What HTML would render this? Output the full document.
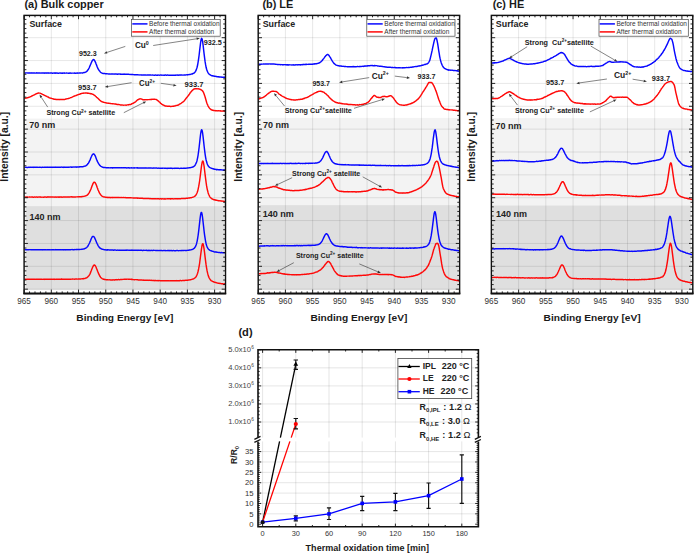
<!DOCTYPE html>
<html><head><meta charset="utf-8"><style>html,body{margin:0;padding:0;background:#fff;}svg{display:block;}</style></head>
<body>
<svg width="694" height="553" viewBox="0 0 694 553" font-family='"Liberation Sans", sans-serif'>
<rect width="694" height="553" fill="#fff"/>
<rect x="25.5" y="118.6" width="198.5" height="87.5" fill="#f3f3f3"/>
<rect x="25.5" y="206.1" width="198.5" height="83.6" fill="#dfdfdf"/>
<path d="M51.32 15.4V293.4 M78.53 15.4V293.4 M105.75 15.4V293.4 M132.96 15.4V293.4 M160.18 15.4V293.4 M187.40 15.4V293.4 M214.61 15.4V293.4 M24.1 37.70H225.50 M24.1 60.56H225.50 M24.1 83.42H225.50 M24.1 106.28H225.50 M24.1 129.14H225.50 M24.1 152.00H225.50 M24.1 174.86H225.50 M24.1 197.72H225.50 M24.1 220.58H225.50 M24.1 243.44H225.50 M24.1 266.30H225.50 M24.1 289.16H225.50" stroke="#000" stroke-opacity="0.12" stroke-width="0.8" fill="none"/>
<polyline points="24.6,72.95 25.1,73.07 25.6,72.94 26.1,72.90 26.6,72.87 27.1,72.90 27.6,72.94 28.1,72.87 28.6,73.06 29.1,72.87 29.6,73.06 30.1,72.94 30.6,72.94 31.1,72.84 31.6,73.01 32.1,73.04 32.6,72.99 33.1,72.98 33.6,72.97 34.1,72.99 34.6,72.95 35.1,73.04 35.6,73.10 36.1,73.07 36.6,72.82 37.1,72.94 37.6,72.95 38.1,73.04 38.6,72.86 39.1,72.94 39.6,73.02 40.1,72.87 40.6,73.12 41.1,73.10 41.6,72.94 42.1,72.99 42.6,72.99 43.1,72.98 43.6,72.92 44.1,73.18 44.6,73.06 45.1,72.93 45.6,72.94 46.1,73.16 46.6,72.96 47.1,72.94 47.6,72.93 48.1,73.20 48.6,72.94 49.1,73.06 49.6,73.10 50.1,72.95 50.6,73.05 51.1,72.97 51.6,72.98 52.1,73.05 52.6,73.25 53.1,73.08 53.6,73.11 54.1,73.06 54.6,73.03 55.1,73.25 55.6,73.00 56.1,73.04 56.6,73.17 57.1,73.01 57.6,73.17 58.1,73.20 58.6,73.22 59.1,73.11 59.6,73.07 60.1,73.14 60.6,73.08 61.1,73.18 61.6,73.16 62.1,73.02 62.6,73.21 63.1,73.17 63.6,73.02 64.1,72.85 64.6,73.22 65.1,73.12 65.6,73.10 66.1,73.10 66.6,72.95 67.1,73.15 67.6,73.12 68.1,73.11 68.6,73.33 69.1,73.08 69.6,73.20 70.1,72.98 70.6,73.07 71.1,73.26 71.6,73.12 72.1,73.12 72.6,73.11 73.1,73.15 73.6,73.14 74.1,73.16 74.6,73.01 75.1,73.20 75.6,73.13 76.1,73.18 76.6,73.11 77.1,72.91 77.6,73.16 78.1,73.09 78.6,73.15 79.1,73.08 79.6,72.98 80.1,73.08 80.6,72.93 81.1,72.88 81.6,72.88 82.1,73.02 82.6,72.99 83.1,72.81 83.6,72.67 84.1,72.42 84.6,72.57 85.1,72.31 85.6,72.12 86.1,71.78 86.6,71.44 87.1,71.11 87.6,70.27 88.1,69.77 88.6,68.94 89.1,68.00 89.6,66.77 90.1,65.65 90.6,64.49 91.1,63.28 91.6,62.07 92.1,61.01 92.6,60.22 93.1,59.62 93.6,59.55 94.1,59.78 94.6,60.74 95.1,61.46 95.6,62.61 96.1,64.06 96.6,65.17 97.1,66.59 97.6,67.72 98.1,68.94 98.6,69.72 99.1,70.31 99.6,71.04 100.1,71.66 100.6,72.17 101.1,72.61 101.6,72.81 102.1,73.16 102.6,73.36 103.1,73.51 103.6,73.39 104.1,73.56 104.6,73.44 105.1,73.62 105.6,73.79 106.1,73.77 106.6,73.80 107.1,73.84 107.6,73.90 108.1,73.89 108.6,74.02 109.1,73.94 109.6,73.88 110.1,74.01 110.6,74.11 111.1,73.92 111.6,74.00 112.1,74.01 112.6,74.03 113.1,73.96 113.6,74.07 114.1,74.15 114.6,74.04 115.1,74.04 115.6,74.04 116.1,73.98 116.6,74.09 117.1,74.16 117.6,74.25 118.1,74.02 118.6,74.14 119.1,74.07 119.6,74.12 120.1,74.03 120.6,74.22 121.1,74.19 121.6,74.22 122.1,74.29 122.6,74.19 123.1,74.17 123.6,74.29 124.1,74.04 124.6,74.10 125.1,74.23 125.6,74.14 126.1,74.29 126.6,74.24 127.1,74.11 127.6,74.22 128.1,74.21 128.6,74.25 129.1,74.45 129.6,74.39 130.1,74.36 130.6,74.42 131.1,74.39 131.6,74.44 132.1,74.41 132.6,74.51 133.1,74.59 133.6,74.63 134.1,74.69 134.6,74.70 135.1,74.65 135.6,74.75 136.1,74.76 136.6,74.77 137.1,74.75 137.6,74.71 138.1,74.84 138.6,74.88 139.1,74.93 139.6,74.87 140.1,74.86 140.6,74.87 141.1,75.07 141.6,74.94 142.1,75.02 142.6,75.10 143.1,74.95 143.6,74.96 144.1,74.96 144.6,74.98 145.1,74.98 145.6,74.98 146.1,75.11 146.6,75.08 147.1,75.02 147.6,74.98 148.1,75.03 148.6,74.99 149.1,74.97 149.6,75.14 150.1,74.89 150.6,74.92 151.1,75.06 151.6,75.12 152.1,75.12 152.6,74.98 153.1,75.11 153.6,75.15 154.1,75.15 154.6,75.15 155.1,75.15 155.6,74.98 156.1,75.10 156.6,75.20 157.1,75.21 157.6,75.21 158.1,75.03 158.6,75.13 159.1,75.13 159.6,75.18 160.1,75.11 160.6,75.05 161.1,75.03 161.6,75.17 162.1,75.17 162.6,75.11 163.1,75.11 163.6,75.17 164.1,75.27 164.6,75.18 165.1,75.05 165.6,75.01 166.1,75.17 166.6,75.18 167.1,75.17 167.6,74.98 168.1,75.12 168.6,75.19 169.1,75.19 169.6,75.19 170.1,75.12 170.6,75.19 171.1,75.19 171.6,75.13 172.1,75.17 172.6,75.13 173.1,75.19 173.6,75.25 174.1,75.25 174.6,75.16 175.1,75.13 175.6,75.21 176.1,75.07 176.6,75.15 177.1,75.17 177.6,75.09 178.1,75.08 178.6,75.17 179.1,75.16 179.6,75.00 180.1,75.17 180.6,75.03 181.1,74.95 181.6,74.92 182.1,75.08 182.6,75.11 183.1,75.13 183.6,75.11 184.1,74.88 184.6,74.98 185.1,74.96 185.6,74.92 186.1,74.87 186.6,74.81 187.1,74.67 187.6,75.00 188.1,74.68 188.6,74.63 189.1,74.52 189.6,74.53 190.1,74.41 190.6,74.37 191.1,74.13 191.6,74.03 192.1,74.03 192.6,73.75 193.1,73.43 193.6,73.31 194.1,73.02 194.6,72.45 195.1,72.04 195.6,71.28 196.1,70.17 196.6,68.81 197.1,67.26 197.6,65.01 198.1,62.23 198.6,58.98 199.1,55.27 199.6,50.90 200.1,46.59 200.6,42.62 201.1,39.57 201.6,38.35 202.1,38.94 202.6,41.42 203.1,45.21 203.6,49.58 204.1,53.88 204.6,57.95 205.1,61.63 205.6,64.71 206.1,67.29 206.6,69.30 207.1,70.63 207.6,71.83 208.1,72.79 208.6,73.51 209.1,74.19 209.6,74.51 210.1,74.83 210.6,75.02 211.1,75.42 211.6,75.67 212.1,75.62 212.6,75.76 213.1,75.96 213.6,75.91 214.1,76.21 214.6,76.26 215.1,76.24 215.6,76.43 216.1,76.62 216.6,76.54 217.1,76.73 217.6,76.71 218.1,76.78 218.6,76.75 219.1,77.03 219.6,76.83 220.1,76.96 220.6,77.08 221.1,76.93 221.6,77.16 222.1,77.18 222.6,77.16 223.1,77.30 223.6,77.19 224.1,77.14 224.6,77.31 225.1,77.28" fill="none" stroke="#0808ff" stroke-width="1.45" stroke-linejoin="round"/>
<polyline points="24.6,98.39 25.1,98.32 25.6,98.13 26.1,98.08 26.6,97.96 27.1,97.84 27.6,97.87 28.1,97.53 28.6,97.37 29.1,97.20 29.6,97.15 30.1,96.86 30.6,96.67 31.1,96.49 31.6,96.21 32.1,95.78 32.6,95.72 33.1,95.31 33.6,95.11 34.1,94.83 34.6,94.71 35.1,94.31 35.6,94.05 36.1,93.89 36.6,93.75 37.1,93.43 37.6,93.33 38.1,93.25 38.6,92.92 39.1,93.11 39.6,93.14 40.1,93.14 40.6,93.36 41.1,93.56 41.6,93.92 42.1,94.07 42.6,94.41 43.1,94.69 43.6,94.68 44.1,95.11 44.6,95.33 45.1,95.56 45.6,95.89 46.1,96.11 46.6,96.24 47.1,96.55 47.6,96.83 48.1,97.01 48.6,97.20 49.1,97.73 49.6,97.87 50.1,98.07 50.6,98.16 51.1,98.15 51.6,98.43 52.1,98.63 52.6,98.69 53.1,98.81 53.6,99.02 54.1,99.28 54.6,99.24 55.1,99.32 55.6,99.33 56.1,99.58 56.6,99.52 57.1,99.50 57.6,99.48 58.1,99.46 58.6,99.53 59.1,99.68 59.6,99.52 60.1,99.56 60.6,99.45 61.1,99.54 61.6,99.40 62.1,99.63 62.6,99.47 63.1,99.55 63.6,99.50 64.1,99.56 64.6,99.43 65.1,99.35 65.6,99.07 66.1,99.00 66.6,98.87 67.1,98.75 67.6,98.63 68.1,98.64 68.6,98.43 69.1,98.29 69.6,98.06 70.1,97.87 70.6,97.64 71.1,97.62 71.6,97.33 72.1,97.15 72.6,96.89 73.1,96.57 73.6,96.42 74.1,96.05 74.6,96.08 75.1,95.83 75.6,95.65 76.1,95.45 76.6,95.29 77.1,95.03 77.6,94.87 78.1,94.63 78.6,94.48 79.1,94.36 79.6,94.25 80.1,94.00 80.6,93.77 81.1,93.58 81.6,93.55 82.1,93.36 82.6,93.33 83.1,93.29 83.6,93.01 84.1,93.12 84.6,93.10 85.1,92.93 85.6,92.99 86.1,93.11 86.6,93.02 87.1,93.05 87.6,93.24 88.1,93.18 88.6,93.23 89.1,93.39 89.6,93.42 90.1,93.52 90.6,93.72 91.1,93.83 91.6,93.73 92.1,94.09 92.6,94.19 93.1,94.40 93.6,94.66 94.1,95.06 94.6,95.36 95.1,95.72 95.6,96.24 96.1,96.58 96.6,97.23 97.1,97.68 97.6,98.00 98.1,98.43 98.6,98.91 99.1,99.44 99.6,100.04 100.1,100.44 100.6,100.81 101.1,101.21 101.6,101.62 102.1,101.70 102.6,101.84 103.1,102.25 103.6,102.16 104.1,102.41 104.6,102.57 105.1,102.63 105.6,102.71 106.1,102.93 106.6,102.93 107.1,103.07 107.6,103.10 108.1,103.32 108.6,103.20 109.1,103.25 109.6,103.35 110.1,103.47 110.6,103.53 111.1,103.62 111.6,103.62 112.1,103.77 112.6,103.67 113.1,103.74 113.6,103.88 114.1,103.90 114.6,103.95 115.1,104.02 115.6,104.07 116.1,104.21 116.6,104.31 117.1,104.43 117.6,104.42 118.1,104.44 118.6,104.49 119.1,104.58 119.6,104.62 120.1,104.87 120.6,105.04 121.1,104.97 121.6,105.06 122.1,104.92 122.6,105.14 123.1,105.13 123.6,105.20 124.1,105.14 124.6,105.13 125.1,105.10 125.6,105.09 126.1,105.25 126.6,105.09 127.1,104.86 127.6,104.88 128.1,104.79 128.6,104.90 129.1,104.51 129.6,104.61 130.1,104.53 130.6,104.51 131.1,104.31 131.6,103.98 132.1,103.66 132.6,103.47 133.1,103.25 133.6,103.03 134.1,102.72 134.6,102.38 135.1,102.16 135.6,101.69 136.1,101.18 136.6,100.70 137.1,100.24 137.6,99.82 138.1,99.80 138.6,99.33 139.1,99.06 139.6,99.04 140.1,98.78 140.6,98.85 141.1,98.88 141.6,99.13 142.1,99.24 142.6,99.62 143.1,99.86 143.6,99.72 144.1,99.73 144.6,99.80 145.1,99.80 145.6,99.63 146.1,99.64 146.6,99.68 147.1,99.81 147.6,99.61 148.1,99.65 148.6,99.64 149.1,99.61 149.6,99.57 150.1,99.45 150.6,99.52 151.1,99.30 151.6,99.49 152.1,99.32 152.6,99.36 153.1,99.20 153.6,99.33 154.1,99.20 154.6,99.19 155.1,99.37 155.6,99.35 156.1,99.42 156.6,99.62 157.1,100.16 157.6,100.45 158.1,100.86 158.6,101.28 159.1,101.79 159.6,102.07 160.1,102.54 160.6,103.35 161.1,103.55 161.6,104.13 162.1,104.41 162.6,104.71 163.1,105.01 163.6,105.17 164.1,105.54 164.6,105.74 165.1,105.93 165.6,106.16 166.1,106.01 166.6,106.17 167.1,106.31 167.6,106.15 168.1,106.19 168.6,106.23 169.1,106.23 169.6,106.22 170.1,106.42 170.6,106.51 171.1,106.44 171.6,106.35 172.1,106.33 172.6,106.36 173.1,106.22 173.6,106.18 174.1,106.06 174.6,106.06 175.1,105.92 175.6,105.74 176.1,105.50 176.6,105.40 177.1,105.35 177.6,105.28 178.1,104.91 178.6,104.95 179.1,104.46 179.6,104.19 180.1,103.96 180.6,103.56 181.1,103.27 181.6,102.92 182.1,102.50 182.6,102.13 183.1,101.79 183.6,101.43 184.1,101.04 184.6,100.34 185.1,99.63 185.6,99.10 186.1,98.36 186.6,97.85 187.1,97.14 187.6,96.58 188.1,95.90 188.6,95.23 189.1,94.48 189.6,93.90 190.1,92.89 190.6,92.42 191.1,91.77 191.6,91.13 192.1,90.60 192.6,90.18 193.1,89.69 193.6,89.23 194.1,89.03 194.6,88.78 195.1,88.68 195.6,88.60 196.1,88.72 196.6,88.72 197.1,88.88 197.6,88.80 198.1,88.70 198.6,88.88 199.1,89.10 199.6,89.07 200.1,89.37 200.6,89.46 201.1,89.80 201.6,90.15 202.1,90.46 202.6,91.03 203.1,91.76 203.6,92.67 204.1,94.00 204.6,95.40 205.1,96.94 205.6,98.70 206.1,100.44 206.6,102.24 207.1,103.76 207.6,104.84 208.1,106.04 208.6,106.87 209.1,107.66 209.6,108.30 210.1,108.84 210.6,109.13 211.1,109.64 211.6,110.05 212.1,110.02 212.6,110.20 213.1,110.31 213.6,110.45 214.1,110.44 214.6,110.63 215.1,110.69 215.6,110.59 216.1,110.66 216.6,110.64 217.1,110.78 217.6,110.90 218.1,110.69 218.6,110.76 219.1,110.73 219.6,110.88 220.1,110.91 220.6,110.84 221.1,110.92 221.6,111.15 222.1,111.17 222.6,110.96 223.1,111.06 223.6,111.06 224.1,111.16 224.6,111.06 225.1,111.22" fill="none" stroke="#ff0808" stroke-width="1.45" stroke-linejoin="round"/>
<polyline points="24.6,167.35 25.1,167.30 25.6,167.38 26.1,167.31 26.6,167.37 27.1,167.55 27.6,167.39 28.1,167.41 28.6,167.29 29.1,167.28 29.6,167.41 30.1,167.27 30.6,167.27 31.1,167.37 31.6,167.30 32.1,167.38 32.6,167.26 33.1,167.40 33.6,167.15 34.1,167.25 34.6,167.21 35.1,167.33 35.6,167.20 36.1,167.39 36.6,167.23 37.1,167.39 37.6,167.30 38.1,167.39 38.6,167.40 39.1,167.25 39.6,167.31 40.1,167.36 40.6,167.31 41.1,167.40 41.6,167.40 42.1,167.27 42.6,167.14 43.1,167.28 43.6,167.39 44.1,167.26 44.6,167.25 45.1,167.25 45.6,167.32 46.1,167.39 46.6,167.12 47.1,167.33 47.6,167.23 48.1,167.15 48.6,167.34 49.1,167.24 49.6,167.22 50.1,167.25 50.6,167.18 51.1,167.31 51.6,167.20 52.1,167.41 52.6,167.30 53.1,167.22 53.6,167.23 54.1,167.16 54.6,167.29 55.1,167.29 55.6,167.09 56.1,167.25 56.6,167.29 57.1,167.31 57.6,167.20 58.1,167.18 58.6,167.23 59.1,167.28 59.6,167.26 60.1,167.24 60.6,167.20 61.1,167.15 61.6,167.09 62.1,167.24 62.6,167.17 63.1,167.22 63.6,167.40 64.1,167.08 64.6,167.29 65.1,167.11 65.6,167.16 66.1,167.13 66.6,167.18 67.1,167.21 67.6,167.19 68.1,167.31 68.6,167.12 69.1,167.24 69.6,167.12 70.1,167.08 70.6,167.14 71.1,167.01 71.6,167.22 72.1,167.23 72.6,167.08 73.1,166.99 73.6,167.13 74.1,167.09 74.6,167.12 75.1,166.99 75.6,167.06 76.1,167.08 76.6,167.18 77.1,166.93 77.6,167.04 78.1,166.91 78.6,166.94 79.1,167.04 79.6,166.76 80.1,166.73 80.6,166.80 81.1,166.75 81.6,166.89 82.1,166.62 82.6,166.80 83.1,166.57 83.6,166.57 84.1,166.35 84.6,166.15 85.1,166.09 85.6,165.97 86.1,165.58 86.6,165.20 87.1,164.91 87.6,164.06 88.1,163.62 88.6,162.88 89.1,161.86 89.6,160.88 90.1,159.86 90.6,158.60 91.1,157.28 91.6,156.23 92.1,155.08 92.6,154.45 93.1,153.98 93.6,153.85 94.1,154.19 94.6,154.80 95.1,155.63 95.6,156.85 96.1,158.16 96.6,159.50 97.1,160.63 97.6,161.88 98.1,162.71 98.6,163.77 99.1,164.26 99.6,165.16 100.1,165.58 100.6,166.14 101.1,166.42 101.6,166.67 102.1,166.97 102.6,167.20 103.1,167.30 103.6,167.53 104.1,167.42 104.6,167.53 105.1,167.52 105.6,167.64 106.1,167.74 106.6,167.82 107.1,167.72 107.6,167.62 108.1,167.72 108.6,167.78 109.1,167.80 109.6,167.87 110.1,167.90 110.6,167.75 111.1,167.71 111.6,167.66 112.1,167.80 112.6,167.93 113.1,167.79 113.6,167.89 114.1,167.69 114.6,167.73 115.1,167.75 115.6,167.69 116.1,167.72 116.6,167.78 117.1,167.75 117.6,167.80 118.1,167.77 118.6,167.78 119.1,167.66 119.6,167.71 120.1,167.73 120.6,167.85 121.1,167.74 121.6,167.73 122.1,167.71 122.6,167.85 123.1,167.75 123.6,167.70 124.1,167.69 124.6,167.70 125.1,167.87 125.6,167.70 126.1,167.87 126.6,167.94 127.1,167.79 127.6,167.88 128.1,167.96 128.6,167.72 129.1,167.81 129.6,168.05 130.1,167.85 130.6,167.88 131.1,167.94 131.6,167.80 132.1,167.85 132.6,167.85 133.1,168.07 133.6,167.91 134.1,167.76 134.6,167.96 135.1,167.87 135.6,167.89 136.1,167.89 136.6,167.84 137.1,167.97 137.6,167.79 138.1,167.94 138.6,167.96 139.1,167.97 139.6,167.93 140.1,168.01 140.6,168.01 141.1,167.96 141.6,168.03 142.1,167.89 142.6,168.04 143.1,168.04 143.6,167.87 144.1,167.96 144.6,168.03 145.1,167.84 145.6,167.94 146.1,168.01 146.6,168.06 147.1,168.14 147.6,168.08 148.1,167.90 148.6,167.90 149.1,167.92 149.6,168.02 150.1,168.04 150.6,167.99 151.1,168.00 151.6,168.09 152.1,168.14 152.6,168.18 153.1,168.03 153.6,168.15 154.1,167.96 154.6,168.06 155.1,168.13 155.6,168.09 156.1,168.06 156.6,168.09 157.1,168.12 157.6,168.17 158.1,168.22 158.6,168.09 159.1,168.12 159.6,168.21 160.1,168.16 160.6,168.14 161.1,168.18 161.6,168.22 162.1,168.09 162.6,168.24 163.1,168.10 163.6,168.11 164.1,168.21 164.6,168.26 165.1,168.21 165.6,168.26 166.1,168.28 166.6,168.34 167.1,168.46 167.6,168.27 168.1,168.26 168.6,168.24 169.1,168.38 169.6,168.23 170.1,168.26 170.6,168.10 171.1,168.32 171.6,168.26 172.1,168.30 172.6,168.45 173.1,168.36 173.6,168.32 174.1,168.24 174.6,168.42 175.1,168.27 175.6,168.28 176.1,168.29 176.6,168.25 177.1,168.19 177.6,168.32 178.1,168.33 178.6,168.34 179.1,168.36 179.6,168.41 180.1,168.35 180.6,168.30 181.1,168.30 181.6,168.28 182.1,168.35 182.6,168.34 183.1,168.30 183.6,168.15 184.1,168.32 184.6,168.21 185.1,168.14 185.6,168.22 186.1,168.21 186.6,168.13 187.1,168.02 187.6,167.97 188.1,168.00 188.6,167.89 189.1,167.79 189.6,167.79 190.1,167.74 190.6,167.63 191.1,167.46 191.6,167.39 192.1,167.20 192.6,167.05 193.1,166.95 193.6,166.54 194.1,166.20 194.6,165.83 195.1,165.23 195.6,164.23 196.1,163.17 196.6,161.94 197.1,160.20 197.6,157.79 198.1,155.02 198.6,151.42 199.1,147.47 199.6,142.96 200.1,138.39 200.6,134.01 201.1,131.03 201.6,129.65 202.1,130.40 202.6,133.00 203.1,136.83 203.6,141.45 204.1,146.03 204.6,150.10 205.1,154.04 205.6,157.32 206.1,159.96 206.6,161.83 207.1,163.45 207.6,164.75 208.1,165.71 208.6,166.39 209.1,166.95 209.6,167.33 210.1,167.60 210.6,167.84 211.1,168.08 211.6,168.38 212.1,168.48 212.6,168.67 213.1,168.76 213.6,168.97 214.1,169.04 214.6,169.29 215.1,169.19 215.6,169.34 216.1,169.49 216.6,169.73 217.1,169.53 217.6,169.57 218.1,169.72 218.6,169.75 219.1,169.78 219.6,169.82 220.1,169.93 220.6,169.77 221.1,169.82 221.6,169.90 222.1,170.01 222.6,170.14 223.1,170.04 223.6,170.04 224.1,170.23 224.6,170.01 225.1,170.08" fill="none" stroke="#0808ff" stroke-width="1.45" stroke-linejoin="round"/>
<polyline points="24.6,197.03 25.1,197.11 25.6,197.08 26.1,196.91 26.6,197.10 27.1,197.05 27.6,197.03 28.1,197.10 28.6,197.14 29.1,197.07 29.6,196.96 30.1,197.03 30.6,197.10 31.1,197.12 31.6,196.99 32.1,196.97 32.6,197.06 33.1,197.18 33.6,197.20 34.1,197.10 34.6,196.93 35.1,197.18 35.6,197.15 36.1,197.07 36.6,196.99 37.1,197.08 37.6,197.16 38.1,197.14 38.6,197.08 39.1,197.07 39.6,196.97 40.1,196.98 40.6,197.05 41.1,197.22 41.6,197.13 42.1,197.12 42.6,197.13 43.1,197.21 43.6,197.09 44.1,197.18 44.6,196.96 45.1,197.12 45.6,197.05 46.1,197.16 46.6,197.28 47.1,197.04 47.6,197.08 48.1,196.79 48.6,197.12 49.1,197.09 49.6,197.07 50.1,196.96 50.6,196.86 51.1,197.01 51.6,197.07 52.1,197.09 52.6,197.07 53.1,197.12 53.6,197.09 54.1,196.88 54.6,197.09 55.1,197.20 55.6,197.00 56.1,196.95 56.6,197.16 57.1,197.14 57.6,197.06 58.1,197.06 58.6,197.17 59.1,196.95 59.6,197.21 60.1,197.06 60.6,197.06 61.1,197.07 61.6,197.01 62.1,197.20 62.6,197.08 63.1,196.91 63.6,197.00 64.1,196.99 64.6,197.11 65.1,196.88 65.6,196.97 66.1,197.09 66.6,197.09 67.1,196.98 67.6,197.02 68.1,196.89 68.6,197.14 69.1,196.95 69.6,196.87 70.1,196.91 70.6,196.89 71.1,196.78 71.6,196.92 72.1,196.81 72.6,197.07 73.1,197.09 73.6,197.02 74.1,196.90 74.6,197.07 75.1,197.06 75.6,196.92 76.1,196.87 76.6,196.88 77.1,196.85 77.6,196.83 78.1,196.79 78.6,196.90 79.1,196.77 79.6,196.80 80.1,196.82 80.6,196.63 81.1,196.79 81.6,196.70 82.1,196.52 82.6,196.60 83.1,196.42 83.6,196.40 84.1,196.30 84.6,196.14 85.1,196.13 85.6,195.91 86.1,195.74 86.6,195.38 87.1,195.32 87.6,194.87 88.1,194.25 88.6,193.46 89.1,192.84 89.6,191.96 90.1,190.82 90.6,189.80 91.1,188.60 91.6,187.18 92.1,185.72 92.6,184.63 93.1,183.34 93.6,182.56 94.1,182.22 94.6,182.22 95.1,182.63 95.6,183.54 96.1,184.45 96.6,185.66 97.1,187.19 97.6,188.53 98.1,189.99 98.6,191.02 99.1,192.08 99.6,193.09 100.1,194.00 100.6,194.64 101.1,195.28 101.6,195.86 102.1,196.14 102.6,196.40 103.1,196.71 103.6,196.91 104.1,197.04 104.6,196.98 105.1,197.16 105.6,197.30 106.1,197.33 106.6,197.34 107.1,197.50 107.6,197.32 108.1,197.38 108.6,197.60 109.1,197.33 109.6,197.51 110.1,197.68 110.6,197.55 111.1,197.63 111.6,197.41 112.1,197.48 112.6,197.72 113.1,197.45 113.6,197.54 114.1,197.41 114.6,197.55 115.1,197.47 115.6,197.47 116.1,197.38 116.6,197.49 117.1,197.54 117.6,197.52 118.1,197.58 118.6,197.40 119.1,197.42 119.6,197.55 120.1,197.60 120.6,197.55 121.1,197.62 121.6,197.51 122.1,197.59 122.6,197.62 123.1,197.55 123.6,197.59 124.1,197.62 124.6,197.65 125.1,197.50 125.6,197.69 126.1,197.72 126.6,197.72 127.1,197.85 127.6,197.65 128.1,197.86 128.6,197.64 129.1,197.77 129.6,197.82 130.1,197.62 130.6,197.80 131.1,197.84 131.6,197.88 132.1,197.85 132.6,197.85 133.1,197.95 133.6,198.00 134.1,197.94 134.6,198.00 135.1,198.09 135.6,197.93 136.1,197.89 136.6,198.01 137.1,198.06 137.6,198.20 138.1,198.07 138.6,198.13 139.1,198.32 139.6,198.11 140.1,198.21 140.6,198.13 141.1,198.23 141.6,198.31 142.1,198.21 142.6,198.32 143.1,198.42 143.6,198.42 144.1,198.38 144.6,198.42 145.1,198.37 145.6,198.46 146.1,198.41 146.6,198.46 147.1,198.47 147.6,198.55 148.1,198.55 148.6,198.46 149.1,198.51 149.6,198.69 150.1,198.74 150.6,198.57 151.1,198.62 151.6,198.73 152.1,198.77 152.6,198.62 153.1,198.72 153.6,198.70 154.1,198.76 154.6,198.76 155.1,198.78 155.6,198.75 156.1,198.76 156.6,198.85 157.1,198.78 157.6,198.73 158.1,198.74 158.6,198.75 159.1,198.95 159.6,198.91 160.1,198.77 160.6,198.81 161.1,198.84 161.6,198.96 162.1,198.75 162.6,198.84 163.1,198.90 163.6,198.90 164.1,198.79 164.6,199.00 165.1,198.84 165.6,198.91 166.1,198.89 166.6,198.89 167.1,198.80 167.6,198.73 168.1,198.88 168.6,198.74 169.1,198.88 169.6,198.77 170.1,198.77 170.6,198.94 171.1,198.83 171.6,198.83 172.1,198.80 172.6,198.77 173.1,198.93 173.6,198.86 174.1,198.75 174.6,198.85 175.1,198.74 175.6,198.74 176.1,198.81 176.6,198.74 177.1,198.91 177.6,198.76 178.1,198.77 178.6,198.76 179.1,198.71 179.6,198.70 180.1,198.67 180.6,198.80 181.1,198.65 181.6,198.53 182.1,198.59 182.6,198.59 183.1,198.47 183.6,198.51 184.1,198.55 184.6,198.46 185.1,198.51 185.6,198.41 186.1,198.34 186.6,198.16 187.1,198.33 187.6,198.20 188.1,198.14 188.6,198.03 189.1,198.14 189.6,197.98 190.1,197.69 190.6,197.80 191.1,197.75 191.6,197.55 192.1,197.36 192.6,197.31 193.1,197.08 193.6,196.89 194.1,196.62 194.6,196.26 195.1,196.04 195.6,195.52 196.1,194.72 196.6,193.82 197.1,192.73 197.6,191.33 198.1,189.31 198.6,186.96 199.1,184.17 199.6,181.01 200.1,177.26 200.6,173.14 201.1,169.13 201.6,165.47 202.1,162.56 202.6,161.10 203.1,161.24 203.6,163.24 204.1,166.44 204.6,170.49 205.1,174.65 205.6,178.62 206.1,182.52 206.6,185.90 207.1,188.56 207.6,190.81 208.1,192.67 208.6,194.27 209.1,195.30 209.6,196.35 210.1,197.12 210.6,197.75 211.1,198.07 211.6,198.55 212.1,199.03 212.6,199.06 213.1,199.37 213.6,199.52 214.1,199.84 214.6,199.84 215.1,200.08 215.6,200.00 216.1,200.25 216.6,200.23 217.1,200.36 217.6,200.50 218.1,200.58 218.6,200.79 219.1,200.75 219.6,200.87 220.1,200.80 220.6,200.90 221.1,201.17 221.6,201.02 222.1,201.11 222.6,201.08 223.1,201.21 223.6,201.27 224.1,201.40 224.6,201.39 225.1,201.38" fill="none" stroke="#ff0808" stroke-width="1.45" stroke-linejoin="round"/>
<polyline points="24.6,249.57 25.1,249.56 25.6,249.76 26.1,249.74 26.6,249.71 27.1,249.73 27.6,249.73 28.1,249.66 28.6,249.69 29.1,249.69 29.6,249.61 30.1,249.65 30.6,249.67 31.1,249.80 31.6,249.75 32.1,249.81 32.6,249.76 33.1,249.77 33.6,249.80 34.1,249.76 34.6,249.77 35.1,249.88 35.6,249.74 36.1,249.67 36.6,249.83 37.1,249.73 37.6,249.80 38.1,249.62 38.6,249.67 39.1,249.84 39.6,249.76 40.1,249.67 40.6,249.80 41.1,249.76 41.6,249.75 42.1,249.91 42.6,249.65 43.1,249.78 43.6,249.84 44.1,249.81 44.6,249.70 45.1,249.82 45.6,249.63 46.1,249.75 46.6,249.84 47.1,249.81 47.6,249.81 48.1,249.72 48.6,249.65 49.1,249.89 49.6,249.75 50.1,249.73 50.6,249.89 51.1,249.87 51.6,249.81 52.1,249.76 52.6,249.75 53.1,249.83 53.6,249.77 54.1,249.74 54.6,249.88 55.1,249.74 55.6,249.58 56.1,249.81 56.6,249.66 57.1,249.78 57.6,249.62 58.1,249.71 58.6,249.74 59.1,249.70 59.6,249.73 60.1,249.69 60.6,249.72 61.1,249.85 61.6,249.77 62.1,249.84 62.6,249.68 63.1,249.73 63.6,249.92 64.1,249.72 64.6,249.75 65.1,249.90 65.6,249.71 66.1,249.69 66.6,249.78 67.1,249.75 67.6,249.68 68.1,249.73 68.6,249.68 69.1,249.69 69.6,249.65 70.1,249.68 70.6,249.68 71.1,249.60 71.6,249.64 72.1,249.55 72.6,249.67 73.1,249.63 73.6,249.79 74.1,249.56 74.6,249.66 75.1,249.62 75.6,249.60 76.1,249.42 76.6,249.66 77.1,249.55 77.6,249.46 78.1,249.46 78.6,249.42 79.1,249.42 79.6,249.48 80.1,249.37 80.6,249.36 81.1,249.41 81.6,249.32 82.1,249.23 82.6,249.16 83.1,249.07 83.6,249.01 84.1,248.93 84.6,248.78 85.1,248.39 85.6,248.21 86.1,247.89 86.6,247.56 87.1,247.03 87.6,246.47 88.1,245.76 88.6,244.72 89.1,243.78 89.6,242.78 90.1,241.65 90.6,240.46 91.1,239.03 91.6,237.98 92.1,237.07 92.6,236.44 93.1,236.42 93.6,236.42 94.1,236.91 94.6,237.67 95.1,238.92 95.6,239.95 96.1,241.16 96.6,242.40 97.1,243.58 97.6,244.52 98.1,245.58 98.6,246.36 99.1,246.99 99.6,247.73 100.1,247.88 100.6,248.40 101.1,248.75 101.6,248.98 102.1,249.17 102.6,249.18 103.1,249.35 103.6,249.55 104.1,249.60 104.6,249.73 105.1,249.80 105.6,249.83 106.1,249.95 106.6,249.97 107.1,249.81 107.6,249.95 108.1,249.80 108.6,249.88 109.1,249.97 109.6,249.95 110.1,249.90 110.6,250.00 111.1,250.04 111.6,249.99 112.1,250.01 112.6,250.06 113.1,250.09 113.6,250.23 114.1,250.06 114.6,250.07 115.1,250.03 115.6,250.09 116.1,250.11 116.6,250.37 117.1,250.24 117.6,250.08 118.1,250.12 118.6,250.23 119.1,250.07 119.6,250.22 120.1,250.23 120.6,250.25 121.1,250.22 121.6,250.12 122.1,250.19 122.6,250.16 123.1,250.11 123.6,250.27 124.1,250.21 124.6,250.20 125.1,250.09 125.6,250.25 126.1,250.16 126.6,250.09 127.1,250.25 127.6,250.08 128.1,250.13 128.6,250.21 129.1,250.26 129.6,250.11 130.1,250.25 130.6,250.30 131.1,250.31 131.6,250.20 132.1,250.03 132.6,250.27 133.1,250.27 133.6,250.23 134.1,250.28 134.6,250.30 135.1,250.19 135.6,250.13 136.1,250.23 136.6,250.25 137.1,250.40 137.6,250.25 138.1,250.30 138.6,250.26 139.1,250.30 139.6,250.38 140.1,250.26 140.6,250.15 141.1,250.16 141.6,250.26 142.1,250.42 142.6,250.44 143.1,250.41 143.6,250.22 144.1,250.40 144.6,250.39 145.1,250.32 145.6,250.35 146.1,250.33 146.6,250.26 147.1,250.45 147.6,250.39 148.1,250.51 148.6,250.34 149.1,250.32 149.6,250.56 150.1,250.50 150.6,250.53 151.1,250.33 151.6,250.39 152.1,250.55 152.6,250.49 153.1,250.41 153.6,250.26 154.1,250.39 154.6,250.40 155.1,250.38 155.6,250.46 156.1,250.56 156.6,250.48 157.1,250.41 157.6,250.53 158.1,250.47 158.6,250.57 159.1,250.63 159.6,250.48 160.1,250.39 160.6,250.51 161.1,250.48 161.6,250.42 162.1,250.67 162.6,250.62 163.1,250.64 163.6,250.51 164.1,250.64 164.6,250.53 165.1,250.66 165.6,250.58 166.1,250.63 166.6,250.63 167.1,250.66 167.6,250.52 168.1,250.49 168.6,250.56 169.1,250.70 169.6,250.56 170.1,250.63 170.6,250.58 171.1,250.67 171.6,250.57 172.1,250.59 172.6,250.72 173.1,250.59 173.6,250.58 174.1,250.60 174.6,250.76 175.1,250.77 175.6,250.76 176.1,250.62 176.6,250.53 177.1,250.56 177.6,250.55 178.1,250.61 178.6,250.71 179.1,250.64 179.6,250.65 180.1,250.56 180.6,250.62 181.1,250.66 181.6,250.42 182.1,250.61 182.6,250.47 183.1,250.48 183.6,250.48 184.1,250.39 184.6,250.37 185.1,250.55 185.6,250.47 186.1,250.37 186.6,250.47 187.1,250.37 187.6,250.37 188.1,250.13 188.6,250.16 189.1,250.24 189.6,249.93 190.1,249.98 190.6,249.87 191.1,249.77 191.6,249.60 192.1,249.47 192.6,249.33 193.1,249.03 193.6,248.74 194.1,248.42 194.6,247.80 195.1,247.02 195.6,246.26 196.1,244.98 196.6,243.42 197.1,241.31 197.6,238.61 198.1,235.50 198.6,231.59 199.1,227.36 199.6,222.81 200.1,218.40 200.6,214.77 201.1,212.54 201.6,212.48 202.1,214.42 202.6,217.90 203.1,222.29 203.6,226.64 204.1,231.23 204.6,235.06 205.1,238.37 205.6,241.27 206.1,243.72 206.6,245.49 207.1,246.85 207.6,247.88 208.1,248.71 208.6,249.23 209.1,249.67 209.6,250.06 210.1,250.40 210.6,250.63 211.1,250.76 211.6,251.01 212.1,251.19 212.6,251.39 213.1,251.34 213.6,251.59 214.1,251.84 214.6,251.97 215.1,251.83 215.6,252.03 216.1,251.90 216.6,252.20 217.1,252.16 217.6,252.38 218.1,252.37 218.6,252.42 219.1,252.35 219.6,252.48 220.1,252.59 220.6,252.66 221.1,252.70 221.6,252.55 222.1,252.65 222.6,252.74 223.1,252.85 223.6,252.74 224.1,252.80 224.6,252.89 225.1,252.80" fill="none" stroke="#0808ff" stroke-width="1.45" stroke-linejoin="round"/>
<polyline points="24.6,279.30 25.1,279.29 25.6,279.14 26.1,279.26 26.6,279.36 27.1,279.17 27.6,279.32 28.1,279.19 28.6,279.18 29.1,279.33 29.6,279.12 30.1,279.21 30.6,279.37 31.1,279.23 31.6,279.11 32.1,279.17 32.6,279.26 33.1,279.36 33.6,279.14 34.1,279.27 34.6,279.28 35.1,279.37 35.6,279.31 36.1,279.25 36.6,279.23 37.1,279.33 37.6,279.27 38.1,279.24 38.6,279.21 39.1,279.31 39.6,279.23 40.1,279.20 40.6,279.32 41.1,279.29 41.6,279.19 42.1,279.31 42.6,279.35 43.1,279.28 43.6,279.36 44.1,279.14 44.6,279.42 45.1,279.26 45.6,279.33 46.1,279.20 46.6,279.15 47.1,279.31 47.6,279.27 48.1,279.30 48.6,279.15 49.1,279.32 49.6,279.30 50.1,279.22 50.6,279.25 51.1,279.33 51.6,279.26 52.1,279.21 52.6,279.33 53.1,279.20 53.6,279.13 54.1,279.43 54.6,279.19 55.1,279.35 55.6,279.32 56.1,279.18 56.6,279.33 57.1,279.26 57.6,279.26 58.1,279.18 58.6,279.31 59.1,279.34 59.6,279.16 60.1,279.37 60.6,279.30 61.1,279.05 61.6,279.03 62.1,279.22 62.6,279.20 63.1,279.24 63.6,279.19 64.1,279.31 64.6,279.16 65.1,279.19 65.6,279.29 66.1,279.19 66.6,279.16 67.1,279.19 67.6,279.20 68.1,279.19 68.6,279.13 69.1,279.19 69.6,279.20 70.1,279.15 70.6,279.24 71.1,279.12 71.6,279.10 72.1,279.18 72.6,279.02 73.1,279.13 73.6,279.11 74.1,279.08 74.6,279.24 75.1,279.14 75.6,279.07 76.1,279.07 76.6,279.07 77.1,279.15 77.6,279.12 78.1,279.02 78.6,278.97 79.1,279.04 79.6,278.86 80.1,279.04 80.6,278.93 81.1,278.85 81.6,278.89 82.1,278.83 82.6,278.66 83.1,278.90 83.6,278.56 84.1,278.51 84.6,278.62 85.1,278.45 85.6,278.21 86.1,277.99 86.6,277.80 87.1,277.58 87.6,277.01 88.1,276.68 88.6,275.91 89.1,275.40 89.6,274.54 90.1,273.61 90.6,272.37 91.1,271.10 91.6,269.72 92.1,268.51 92.6,267.32 93.1,266.24 93.6,265.54 94.1,264.98 94.6,264.95 95.1,265.41 95.6,266.25 96.1,267.29 96.6,268.62 97.1,269.85 97.6,271.24 98.1,272.33 98.6,273.67 99.1,274.70 99.6,275.64 100.1,276.57 100.6,277.17 101.1,277.72 101.6,278.15 102.1,278.51 102.6,278.82 103.1,279.00 103.6,279.35 104.1,279.22 104.6,279.56 105.1,279.57 105.6,279.59 106.1,279.68 106.6,279.70 107.1,279.81 107.6,279.72 108.1,279.89 108.6,279.86 109.1,279.84 109.6,279.85 110.1,279.83 110.6,279.95 111.1,279.91 111.6,279.92 112.1,280.02 112.6,279.95 113.1,279.82 113.6,279.85 114.1,279.95 114.6,279.96 115.1,279.80 115.6,279.72 116.1,279.82 116.6,279.60 117.1,279.74 117.6,279.75 118.1,279.67 118.6,279.45 119.1,279.62 119.6,279.75 120.1,279.58 120.6,279.64 121.1,279.38 121.6,279.44 122.1,279.48 122.6,279.40 123.1,279.38 123.6,279.37 124.1,279.19 124.6,279.31 125.1,279.24 125.6,279.19 126.1,279.28 126.6,279.23 127.1,279.13 127.6,279.15 128.1,279.26 128.6,279.20 129.1,279.18 129.6,279.39 130.1,279.29 130.6,279.35 131.1,279.31 131.6,279.45 132.1,279.27 132.6,279.55 133.1,279.63 133.6,279.63 134.1,279.66 134.6,279.67 135.1,279.63 135.6,279.64 136.1,279.61 136.6,279.62 137.1,279.88 137.6,279.74 138.1,279.91 138.6,279.95 139.1,279.91 139.6,279.86 140.1,279.94 140.6,279.98 141.1,280.14 141.6,279.93 142.1,280.11 142.6,280.16 143.1,280.05 143.6,280.21 144.1,280.22 144.6,280.19 145.1,280.23 145.6,280.24 146.1,280.31 146.6,280.23 147.1,280.21 147.6,280.22 148.1,280.25 148.6,280.40 149.1,280.30 149.6,280.26 150.1,280.24 150.6,280.38 151.1,280.44 151.6,280.31 152.1,280.37 152.6,280.46 153.1,280.35 153.6,280.48 154.1,280.65 154.6,280.56 155.1,280.69 155.6,280.37 156.1,280.49 156.6,280.59 157.1,280.76 157.6,280.58 158.1,280.54 158.6,280.70 159.1,280.58 159.6,280.65 160.1,280.70 160.6,280.75 161.1,280.72 161.6,280.85 162.1,280.63 162.6,280.73 163.1,280.79 163.6,280.78 164.1,280.76 164.6,280.62 165.1,280.70 165.6,280.67 166.1,280.73 166.6,280.73 167.1,280.67 167.6,280.65 168.1,280.74 168.6,280.64 169.1,280.82 169.6,280.88 170.1,280.72 170.6,280.71 171.1,280.68 171.6,280.80 172.1,280.79 172.6,280.70 173.1,280.79 173.6,280.75 174.1,280.76 174.6,280.80 175.1,280.82 175.6,280.69 176.1,280.84 176.6,280.60 177.1,280.82 177.6,280.72 178.1,280.70 178.6,280.61 179.1,280.81 179.6,280.73 180.1,280.55 180.6,280.52 181.1,280.61 181.6,280.68 182.1,280.63 182.6,280.51 183.1,280.46 183.6,280.54 184.1,280.52 184.6,280.56 185.1,280.34 185.6,280.37 186.1,280.24 186.6,280.38 187.1,280.29 187.6,280.28 188.1,280.06 188.6,280.11 189.1,279.98 189.6,279.86 190.1,279.81 190.6,279.78 191.1,279.57 191.6,279.36 192.1,279.29 192.6,279.16 193.1,278.99 193.6,278.88 194.1,278.53 194.6,278.19 195.1,277.76 195.6,277.27 196.1,276.69 196.6,275.62 197.1,274.48 197.6,273.15 198.1,271.23 198.6,268.98 199.1,266.36 199.6,263.27 200.1,259.45 200.6,255.53 201.1,251.58 201.6,248.01 202.1,245.11 202.6,243.72 203.1,243.93 203.6,246.07 204.1,249.10 204.6,252.93 205.1,257.07 205.6,261.11 206.1,264.89 206.6,268.08 207.1,270.91 207.6,273.14 208.1,275.04 208.6,276.61 209.1,277.73 209.6,278.68 210.1,279.36 210.6,280.10 211.1,280.67 211.6,280.84 212.1,281.12 212.6,281.45 213.1,281.68 213.6,281.82 214.1,282.13 214.6,282.24 215.1,282.28 215.6,282.55 216.1,282.58 216.6,282.78 217.1,282.91 217.6,283.14 218.1,283.17 218.6,283.15 219.1,283.22 219.6,283.42 220.1,283.45 220.6,283.44 221.1,283.59 221.6,283.74 222.1,283.70 222.6,283.75 223.1,283.97 223.6,283.90 224.1,283.95 224.6,283.81 225.1,284.05" fill="none" stroke="#ff0808" stroke-width="1.45" stroke-linejoin="round"/>
<path d="M24.10 293.4v-3.8 M24.10 15.4v3.8 M29.54 293.4v-2.0 M29.54 15.4v1.9 M34.99 293.4v-2.0 M34.99 15.4v1.9 M40.43 293.4v-2.0 M40.43 15.4v1.9 M45.87 293.4v-2.0 M45.87 15.4v1.9 M51.32 293.4v-3.8 M51.32 15.4v3.8 M56.76 293.4v-2.0 M56.76 15.4v1.9 M62.20 293.4v-2.0 M62.20 15.4v1.9 M67.65 293.4v-2.0 M67.65 15.4v1.9 M73.09 293.4v-2.0 M73.09 15.4v1.9 M78.53 293.4v-3.8 M78.53 15.4v3.8 M83.98 293.4v-2.0 M83.98 15.4v1.9 M89.42 293.4v-2.0 M89.42 15.4v1.9 M94.86 293.4v-2.0 M94.86 15.4v1.9 M100.31 293.4v-2.0 M100.31 15.4v1.9 M105.75 293.4v-3.8 M105.75 15.4v3.8 M111.19 293.4v-2.0 M111.19 15.4v1.9 M116.64 293.4v-2.0 M116.64 15.4v1.9 M122.08 293.4v-2.0 M122.08 15.4v1.9 M127.52 293.4v-2.0 M127.52 15.4v1.9 M132.96 293.4v-3.8 M132.96 15.4v3.8 M138.41 293.4v-2.0 M138.41 15.4v1.9 M143.85 293.4v-2.0 M143.85 15.4v1.9 M149.29 293.4v-2.0 M149.29 15.4v1.9 M154.74 293.4v-2.0 M154.74 15.4v1.9 M160.18 293.4v-3.8 M160.18 15.4v3.8 M165.62 293.4v-2.0 M165.62 15.4v1.9 M171.07 293.4v-2.0 M171.07 15.4v1.9 M176.51 293.4v-2.0 M176.51 15.4v1.9 M181.95 293.4v-2.0 M181.95 15.4v1.9 M187.40 293.4v-3.8 M187.40 15.4v3.8 M192.84 293.4v-2.0 M192.84 15.4v1.9 M198.28 293.4v-2.0 M198.28 15.4v1.9 M203.73 293.4v-2.0 M203.73 15.4v1.9 M209.17 293.4v-2.0 M209.17 15.4v1.9 M214.61 293.4v-3.8 M214.61 15.4v3.8 M220.06 293.4v-2.0 M220.06 15.4v1.9 M225.50 293.4v-2.0 M225.50 15.4v1.9 M24.1 19.41h2.3 M225.50 19.41h-2.3 M24.1 23.98h2.3 M225.50 23.98h-2.3 M24.1 28.56h2.3 M225.50 28.56h-2.3 M24.1 33.13h2.3 M225.50 33.13h-2.3 M24.1 37.70h3.8 M225.50 37.70h-3.8 M24.1 42.27h2.3 M225.50 42.27h-2.3 M24.1 46.84h2.3 M225.50 46.84h-2.3 M24.1 51.42h2.3 M225.50 51.42h-2.3 M24.1 55.99h2.3 M225.50 55.99h-2.3 M24.1 60.56h3.8 M225.50 60.56h-3.8 M24.1 65.13h2.3 M225.50 65.13h-2.3 M24.1 69.70h2.3 M225.50 69.70h-2.3 M24.1 74.28h2.3 M225.50 74.28h-2.3 M24.1 78.85h2.3 M225.50 78.85h-2.3 M24.1 83.42h3.8 M225.50 83.42h-3.8 M24.1 87.99h2.3 M225.50 87.99h-2.3 M24.1 92.56h2.3 M225.50 92.56h-2.3 M24.1 97.14h2.3 M225.50 97.14h-2.3 M24.1 101.71h2.3 M225.50 101.71h-2.3 M24.1 106.28h3.8 M225.50 106.28h-3.8 M24.1 110.85h2.3 M225.50 110.85h-2.3 M24.1 115.42h2.3 M225.50 115.42h-2.3 M24.1 120.00h2.3 M225.50 120.00h-2.3 M24.1 124.57h2.3 M225.50 124.57h-2.3 M24.1 129.14h3.8 M225.50 129.14h-3.8 M24.1 133.71h2.3 M225.50 133.71h-2.3 M24.1 138.28h2.3 M225.50 138.28h-2.3 M24.1 142.86h2.3 M225.50 142.86h-2.3 M24.1 147.43h2.3 M225.50 147.43h-2.3 M24.1 152.00h3.8 M225.50 152.00h-3.8 M24.1 156.57h2.3 M225.50 156.57h-2.3 M24.1 161.14h2.3 M225.50 161.14h-2.3 M24.1 165.72h2.3 M225.50 165.72h-2.3 M24.1 170.29h2.3 M225.50 170.29h-2.3 M24.1 174.86h3.8 M225.50 174.86h-3.8 M24.1 179.43h2.3 M225.50 179.43h-2.3 M24.1 184.00h2.3 M225.50 184.00h-2.3 M24.1 188.58h2.3 M225.50 188.58h-2.3 M24.1 193.15h2.3 M225.50 193.15h-2.3 M24.1 197.72h3.8 M225.50 197.72h-3.8 M24.1 202.29h2.3 M225.50 202.29h-2.3 M24.1 206.86h2.3 M225.50 206.86h-2.3 M24.1 211.44h2.3 M225.50 211.44h-2.3 M24.1 216.01h2.3 M225.50 216.01h-2.3 M24.1 220.58h3.8 M225.50 220.58h-3.8 M24.1 225.15h2.3 M225.50 225.15h-2.3 M24.1 229.72h2.3 M225.50 229.72h-2.3 M24.1 234.30h2.3 M225.50 234.30h-2.3 M24.1 238.87h2.3 M225.50 238.87h-2.3 M24.1 243.44h3.8 M225.50 243.44h-3.8 M24.1 248.01h2.3 M225.50 248.01h-2.3 M24.1 252.58h2.3 M225.50 252.58h-2.3 M24.1 257.16h2.3 M225.50 257.16h-2.3 M24.1 261.73h2.3 M225.50 261.73h-2.3 M24.1 266.30h3.8 M225.50 266.30h-3.8 M24.1 270.87h2.3 M225.50 270.87h-2.3 M24.1 275.44h2.3 M225.50 275.44h-2.3 M24.1 280.02h2.3 M225.50 280.02h-2.3 M24.1 284.59h2.3 M225.50 284.59h-2.3 M24.1 289.16h3.8 M225.50 289.16h-3.8" stroke="#111" stroke-width="0.9" fill="none"/>
<rect x="24.1" y="15.4" width="201.4" height="278.0" fill="none" stroke="#111" stroke-width="1.45"/>
<line x1="23.400000000000002" y1="293.54999999999995" x2="226.20" y2="293.54999999999995" stroke="#111" stroke-width="1.8"/>
<text x="24.1" y="304.3" font-size="8.2" font-weight="normal" text-anchor="middle" fill="#333" >965</text>
<text x="51.3" y="304.3" font-size="8.2" font-weight="normal" text-anchor="middle" fill="#333" >960</text>
<text x="78.5" y="304.3" font-size="8.2" font-weight="normal" text-anchor="middle" fill="#333" >955</text>
<text x="105.7" y="304.3" font-size="8.2" font-weight="normal" text-anchor="middle" fill="#333" >950</text>
<text x="133.0" y="304.3" font-size="8.2" font-weight="normal" text-anchor="middle" fill="#333" >945</text>
<text x="160.2" y="304.3" font-size="8.2" font-weight="normal" text-anchor="middle" fill="#333" >940</text>
<text x="187.4" y="304.3" font-size="8.2" font-weight="normal" text-anchor="middle" fill="#333" >935</text>
<text x="214.6" y="304.3" font-size="8.2" font-weight="normal" text-anchor="middle" fill="#333" >930</text>
<text x="76.3" y="320.5" font-size="9.7" font-weight="bold" fill="#1a1a1a" textLength="97.0" lengthAdjust="spacingAndGlyphs">Binding Energy [eV]</text>
<text x="24.4" y="7.8" font-size="10.9" font-weight="bold" text-anchor="start" fill="#1a1a1a" >(a) Bulk copper</text>
<text transform="translate(8.0,146.8) rotate(-90)" font-size="10.3" font-weight="bold" text-anchor="middle" fill="#1a1a1a">Intensity [a.u.]</text>
<text x="29.4" y="26.6" font-size="8.9" font-weight="bold" text-anchor="start" fill="#222" >Surface</text>
<text x="29.2" y="128.3" font-size="9.0" font-weight="bold" text-anchor="start" fill="#222" >70 nm</text>
<text x="29.6" y="219.8" font-size="9.0" font-weight="bold" text-anchor="start" fill="#222" >140 nm</text>
<rect x="259.6" y="117.9" width="198.5" height="87.2" fill="#f3f3f3"/>
<rect x="259.6" y="205.1" width="198.5" height="84.6" fill="#dfdfdf"/>
<path d="M285.42 15.4V293.4 M312.63 15.4V293.4 M339.85 15.4V293.4 M367.06 15.4V293.4 M394.28 15.4V293.4 M421.50 15.4V293.4 M448.71 15.4V293.4 M258.2 37.70H459.60 M258.2 60.56H459.60 M258.2 83.42H459.60 M258.2 106.28H459.60 M258.2 129.14H459.60 M258.2 152.00H459.60 M258.2 174.86H459.60 M258.2 197.72H459.60 M258.2 220.58H459.60 M258.2 243.44H459.60 M258.2 266.30H459.60 M258.2 289.16H459.60" stroke="#000" stroke-opacity="0.12" stroke-width="0.8" fill="none"/>
<polyline points="258.7,64.18 259.2,64.14 259.7,64.26 260.2,64.24 260.7,64.20 261.2,64.22 261.7,64.09 262.2,64.14 262.7,64.10 263.2,64.08 263.7,64.00 264.2,64.05 264.7,64.12 265.2,63.99 265.7,63.91 266.2,64.01 266.7,63.90 267.2,64.04 267.7,63.93 268.2,63.89 268.7,63.94 269.2,63.90 269.7,63.86 270.2,64.10 270.7,63.95 271.2,63.94 271.7,63.93 272.2,64.01 272.7,63.95 273.2,63.97 273.7,64.01 274.2,64.04 274.7,64.12 275.2,64.29 275.7,64.17 276.2,64.28 276.7,64.37 277.2,64.46 277.7,64.52 278.2,64.49 278.7,64.62 279.2,64.54 279.7,64.60 280.2,64.58 280.7,64.76 281.2,64.60 281.7,64.64 282.2,64.65 282.7,64.90 283.2,64.64 283.7,64.85 284.2,64.63 284.7,64.65 285.2,64.73 285.7,64.80 286.2,64.92 286.7,64.81 287.2,64.80 287.7,64.97 288.2,64.81 288.7,64.94 289.2,64.85 289.7,64.80 290.2,64.85 290.7,64.87 291.2,64.87 291.7,64.96 292.2,64.96 292.7,64.86 293.2,64.75 293.7,65.02 294.2,64.91 294.7,64.93 295.2,64.92 295.7,64.84 296.2,64.82 296.7,64.89 297.2,64.83 297.7,64.91 298.2,64.81 298.7,64.79 299.2,64.78 299.7,64.82 300.2,64.80 300.7,64.94 301.2,64.68 301.7,64.66 302.2,64.56 302.7,64.70 303.2,64.53 303.7,64.34 304.2,64.48 304.7,64.49 305.2,64.31 305.7,64.43 306.2,64.51 306.7,64.28 307.2,64.40 307.7,64.38 308.2,64.40 308.7,64.20 309.2,64.23 309.7,64.22 310.2,64.20 310.7,64.11 311.2,64.16 311.7,64.14 312.2,64.22 312.7,64.22 313.2,64.04 313.7,64.07 314.2,63.94 314.7,63.83 315.2,63.91 315.7,63.80 316.2,63.78 316.7,63.71 317.2,63.55 317.7,63.39 318.2,63.38 318.7,63.03 319.2,62.97 319.7,62.73 320.2,62.27 320.7,61.91 321.2,61.61 321.7,61.10 322.2,60.51 322.7,59.75 323.2,59.09 323.7,58.48 324.2,57.84 324.7,57.16 325.2,56.56 325.7,55.81 326.2,55.39 326.7,54.93 327.2,54.55 327.7,54.47 328.2,54.71 328.7,55.15 329.2,55.78 329.7,56.57 330.2,57.25 330.7,58.20 331.2,59.13 331.7,60.00 332.2,60.89 332.7,61.68 333.2,62.37 333.7,63.09 334.2,63.65 334.7,63.96 335.2,64.40 335.7,64.80 336.2,65.16 336.7,65.28 337.2,65.35 337.7,65.56 338.2,65.69 338.7,65.67 339.2,65.92 339.7,65.91 340.2,66.04 340.7,66.07 341.2,66.06 341.7,66.18 342.2,66.34 342.7,66.36 343.2,66.33 343.7,66.37 344.2,66.43 344.7,66.51 345.2,66.57 345.7,66.58 346.2,66.62 346.7,66.60 347.2,66.67 347.7,66.75 348.2,66.69 348.7,66.71 349.2,66.73 349.7,66.62 350.2,66.72 350.7,66.67 351.2,66.70 351.7,66.65 352.2,66.84 352.7,66.76 353.2,66.50 353.7,66.72 354.2,66.76 354.7,66.60 355.2,66.68 355.7,66.70 356.2,66.74 356.7,66.61 357.2,66.59 357.7,66.47 358.2,66.60 358.7,66.65 359.2,66.69 359.7,66.48 360.2,66.48 360.7,66.52 361.2,66.54 361.7,66.38 362.2,66.37 362.7,66.34 363.2,66.33 363.7,66.41 364.2,66.20 364.7,66.04 365.2,66.06 365.7,66.16 366.2,65.90 366.7,65.94 367.2,66.03 367.7,65.75 368.2,65.84 368.7,65.78 369.2,65.68 369.7,65.81 370.2,65.61 370.7,65.55 371.2,65.63 371.7,65.54 372.2,65.44 372.7,65.73 373.2,65.67 373.7,65.68 374.2,65.69 374.7,65.51 375.2,65.71 375.7,65.65 376.2,65.61 376.7,65.65 377.2,65.83 377.7,65.98 378.2,66.03 378.7,66.15 379.2,66.16 379.7,66.23 380.2,66.22 380.7,66.23 381.2,66.37 381.7,66.34 382.2,66.57 382.7,66.57 383.2,66.60 383.7,66.66 384.2,66.85 384.7,66.80 385.2,66.97 385.7,67.03 386.2,67.01 386.7,67.19 387.2,67.20 387.7,67.23 388.2,67.15 388.7,67.18 389.2,67.19 389.7,67.35 390.2,67.13 390.7,67.38 391.2,67.42 391.7,67.45 392.2,67.35 392.7,67.46 393.2,67.61 393.7,67.62 394.2,67.52 394.7,67.52 395.2,67.49 395.7,67.79 396.2,67.88 396.7,67.70 397.2,67.66 397.7,67.85 398.2,67.79 398.7,67.64 399.2,67.69 399.7,67.67 400.2,67.72 400.7,67.87 401.2,67.87 401.7,67.86 402.2,67.68 402.7,67.99 403.2,67.80 403.7,67.79 404.2,67.83 404.7,67.81 405.2,67.66 405.7,67.62 406.2,67.63 406.7,67.50 407.2,67.61 407.7,67.60 408.2,67.53 408.7,67.48 409.2,67.40 409.7,67.40 410.2,67.36 410.7,67.20 411.2,67.23 411.7,67.36 412.2,67.08 412.7,66.99 413.2,67.02 413.7,66.85 414.2,66.66 414.7,66.65 415.2,66.64 415.7,66.52 416.2,66.60 416.7,66.40 417.2,66.42 417.7,66.25 418.2,66.12 418.7,65.93 419.2,66.08 419.7,65.80 420.2,65.85 420.7,65.70 421.2,65.58 421.7,65.30 422.2,65.18 422.7,65.19 423.2,64.95 423.7,64.92 424.2,64.70 424.7,64.43 425.2,64.51 425.7,64.22 426.2,64.12 426.7,63.99 427.2,63.75 427.7,63.56 428.2,62.99 428.7,62.35 429.2,61.49 429.7,60.59 430.2,58.72 430.7,56.68 431.2,54.60 431.7,52.30 432.2,50.15 432.7,47.68 433.2,45.45 433.7,43.16 434.2,40.90 434.7,39.18 435.2,38.37 435.7,37.91 436.2,37.86 436.7,39.13 437.2,41.28 437.7,43.84 438.2,47.07 438.7,50.61 439.2,53.42 439.7,56.57 440.2,58.94 440.7,60.95 441.2,62.65 441.7,63.92 442.2,65.27 442.7,66.20 443.2,67.01 443.7,67.52 444.2,68.13 444.7,68.45 445.2,68.64 445.7,68.98 446.2,69.24 446.7,69.37 447.2,69.70 447.7,69.79 448.2,69.83 448.7,70.23 449.2,70.04 449.7,70.14 450.2,70.07 450.7,70.22 451.2,70.24 451.7,70.15 452.2,70.12 452.7,70.39 453.2,70.43 453.7,70.45 454.2,70.49 454.7,70.59 455.2,70.59 455.7,70.62 456.2,70.68 456.7,70.64 457.2,70.91 457.7,70.83 458.2,70.95 458.7,71.22 459.2,71.19" fill="none" stroke="#0808ff" stroke-width="1.45" stroke-linejoin="round"/>
<polyline points="258.7,98.66 259.2,98.69 259.7,98.66 260.2,98.37 260.7,98.21 261.2,98.15 261.7,97.89 262.2,97.75 262.7,97.61 263.2,97.31 263.7,97.13 264.2,96.61 264.7,96.56 265.2,96.09 265.7,95.61 266.2,95.24 266.7,94.71 267.2,94.29 267.7,93.82 268.2,93.58 268.7,93.16 269.2,92.83 269.7,92.57 270.2,92.13 270.7,91.69 271.2,91.55 271.7,91.39 272.2,91.21 272.7,91.20 273.2,91.21 273.7,91.16 274.2,91.37 274.7,91.37 275.2,91.38 275.7,91.45 276.2,91.53 276.7,91.90 277.2,92.12 277.7,92.47 278.2,93.12 278.7,93.69 279.2,94.14 279.7,94.44 280.2,94.67 280.7,95.30 281.2,95.37 281.7,95.77 282.2,96.04 282.7,96.29 283.2,96.59 283.7,96.80 284.2,97.08 284.7,97.38 285.2,97.67 285.7,98.14 286.2,98.12 286.7,98.52 287.2,98.64 287.7,98.79 288.2,98.85 288.7,99.08 289.2,99.12 289.7,99.34 290.2,99.45 290.7,99.43 291.2,99.71 291.7,99.69 292.2,99.78 292.7,99.85 293.2,99.84 293.7,99.97 294.2,100.03 294.7,99.90 295.2,99.95 295.7,100.01 296.2,99.88 296.7,99.78 297.2,99.85 297.7,99.73 298.2,99.65 298.7,99.50 299.2,99.58 299.7,99.44 300.2,99.47 300.7,99.20 301.2,99.18 301.7,99.29 302.2,99.19 302.7,98.95 303.2,98.80 303.7,98.44 304.2,98.50 304.7,98.25 305.2,97.95 305.7,97.88 306.2,97.68 306.7,97.61 307.2,97.34 307.7,97.27 308.2,96.93 308.7,96.55 309.2,96.31 309.7,95.88 310.2,95.77 310.7,95.40 311.2,95.16 311.7,94.91 312.2,94.59 312.7,94.26 313.2,94.05 313.7,93.75 314.2,93.20 314.7,93.08 315.2,92.86 315.7,92.61 316.2,92.45 316.7,92.27 317.2,91.99 317.7,91.75 318.2,91.65 318.7,91.43 319.2,91.31 319.7,91.38 320.2,91.30 320.7,91.18 321.2,91.46 321.7,91.43 322.2,91.67 322.7,91.69 323.2,92.12 323.7,92.11 324.2,92.55 324.7,93.03 325.2,93.31 325.7,93.70 326.2,94.08 326.7,94.61 327.2,95.17 327.7,95.38 328.2,96.00 328.7,96.73 329.2,97.14 329.7,97.83 330.2,98.32 330.7,98.70 331.2,99.23 331.7,99.76 332.2,100.02 332.7,100.44 333.2,100.87 333.7,101.13 334.2,101.49 334.7,101.85 335.2,102.04 335.7,102.26 336.2,102.47 336.7,102.71 337.2,102.69 337.7,102.76 338.2,103.16 338.7,103.10 339.2,102.96 339.7,103.16 340.2,103.15 340.7,103.43 341.2,103.34 341.7,103.48 342.2,103.73 342.7,103.61 343.2,103.74 343.7,103.84 344.2,103.96 344.7,104.03 345.2,104.13 345.7,104.01 346.2,104.16 346.7,104.04 347.2,104.23 347.7,104.27 348.2,104.48 348.7,104.41 349.2,104.39 349.7,104.43 350.2,104.42 350.7,104.49 351.2,104.51 351.7,104.60 352.2,104.59 352.7,104.68 353.2,104.79 353.7,104.65 354.2,104.71 354.7,104.69 355.2,104.99 355.7,104.98 356.2,104.91 356.7,104.88 357.2,104.81 357.7,104.98 358.2,104.90 358.7,104.92 359.2,104.86 359.7,104.58 360.2,104.62 360.7,104.65 361.2,104.66 361.7,104.45 362.2,104.46 362.7,104.32 363.2,104.16 363.7,104.19 364.2,103.93 364.7,103.77 365.2,103.83 365.7,103.61 366.2,103.27 366.7,103.07 367.2,102.63 367.7,102.35 368.2,102.07 368.7,101.70 369.2,101.21 369.7,100.46 370.2,100.00 370.7,99.15 371.2,98.56 371.7,98.16 372.2,97.48 372.7,96.77 373.2,96.25 373.7,95.69 374.2,95.46 374.7,95.51 375.2,95.81 375.7,96.21 376.2,96.67 376.7,97.14 377.2,97.22 377.7,97.30 378.2,97.25 378.7,97.52 379.2,97.47 379.7,97.62 380.2,97.52 380.7,97.59 381.2,97.21 381.7,96.96 382.2,96.69 382.7,96.47 383.2,96.43 383.7,96.44 384.2,96.30 384.7,96.42 385.2,96.50 385.7,96.67 386.2,96.64 386.7,96.75 387.2,96.73 387.7,96.60 388.2,96.26 388.7,96.40 389.2,96.09 389.7,95.83 390.2,95.78 390.7,95.67 391.2,95.84 391.7,96.09 392.2,96.80 392.7,97.16 393.2,97.81 393.7,98.27 394.2,99.04 394.7,99.84 395.2,100.54 395.7,101.23 396.2,102.00 396.7,102.51 397.2,103.07 397.7,103.47 398.2,103.89 398.7,104.20 399.2,104.46 399.7,104.65 400.2,104.88 400.7,104.90 401.2,105.05 401.7,105.06 402.2,105.15 402.7,105.14 403.2,105.27 403.7,105.25 404.2,105.12 404.7,105.20 405.2,105.08 405.7,105.09 406.2,104.98 406.7,104.99 407.2,104.77 407.7,104.57 408.2,104.44 408.7,104.31 409.2,104.16 409.7,104.07 410.2,103.82 410.7,103.70 411.2,103.56 411.7,103.22 412.2,103.04 412.7,102.94 413.2,102.59 413.7,102.26 414.2,102.06 414.7,101.70 415.2,101.33 415.7,101.11 416.2,100.58 416.7,100.18 417.2,99.78 417.7,99.39 418.2,98.88 418.7,98.25 419.2,97.74 419.7,97.07 420.2,96.47 420.7,95.68 421.2,94.82 421.7,94.13 422.2,93.15 422.7,92.41 423.2,91.50 423.7,90.95 424.2,90.06 424.7,89.31 425.2,88.67 425.7,87.66 426.2,86.86 426.7,86.01 427.2,85.29 427.7,84.30 428.2,83.45 428.7,82.72 429.2,82.42 429.7,82.39 430.2,82.42 430.7,82.48 431.2,82.53 431.7,82.70 432.2,83.04 432.7,83.80 433.2,84.72 433.7,85.72 434.2,86.58 434.7,87.69 435.2,88.93 435.7,90.38 436.2,91.55 436.7,93.03 437.2,94.62 437.7,96.14 438.2,97.71 438.7,99.19 439.2,100.44 439.7,101.63 440.2,103.09 440.7,104.32 441.2,105.26 441.7,106.28 442.2,106.76 442.7,107.32 443.2,107.70 443.7,108.44 444.2,108.80 444.7,109.06 445.2,109.32 445.7,109.26 446.2,109.37 446.7,109.53 447.2,109.57 447.7,109.54 448.2,109.70 448.7,109.80 449.2,109.76 449.7,109.94 450.2,109.89 450.7,109.86 451.2,109.87 451.7,109.89 452.2,110.09 452.7,109.96 453.2,110.17 453.7,110.22 454.2,110.13 454.7,110.33 455.2,110.34 455.7,110.54 456.2,110.48 456.7,110.49 457.2,110.60 457.7,110.71 458.2,110.59 458.7,110.65 459.2,110.83" fill="none" stroke="#ff0808" stroke-width="1.45" stroke-linejoin="round"/>
<polyline points="258.7,163.37 259.2,163.55 259.7,163.43 260.2,163.49 260.7,163.40 261.2,163.65 261.7,163.40 262.2,163.49 262.7,163.45 263.2,163.65 263.7,163.50 264.2,163.39 264.7,163.44 265.2,163.41 265.7,163.40 266.2,163.46 266.7,163.36 267.2,163.53 267.7,163.33 268.2,163.48 268.7,163.53 269.2,163.51 269.7,163.62 270.2,163.49 270.7,163.56 271.2,163.43 271.7,163.62 272.2,163.28 272.7,163.50 273.2,163.41 273.7,163.54 274.2,163.39 274.7,163.47 275.2,163.51 275.7,163.40 276.2,163.48 276.7,163.52 277.2,163.44 277.7,163.42 278.2,163.47 278.7,163.62 279.2,163.41 279.7,163.55 280.2,163.31 280.7,163.39 281.2,163.48 281.7,163.54 282.2,163.45 282.7,163.49 283.2,163.35 283.7,163.39 284.2,163.53 284.7,163.48 285.2,163.46 285.7,163.35 286.2,163.60 286.7,163.58 287.2,163.45 287.7,163.51 288.2,163.37 288.7,163.53 289.2,163.48 289.7,163.44 290.2,163.30 290.7,163.40 291.2,163.34 291.7,163.54 292.2,163.41 292.7,163.59 293.2,163.50 293.7,163.40 294.2,163.56 294.7,163.56 295.2,163.47 295.7,163.30 296.2,163.51 296.7,163.52 297.2,163.49 297.7,163.38 298.2,163.34 298.7,163.32 299.2,163.30 299.7,163.37 300.2,163.52 300.7,163.54 301.2,163.40 301.7,163.38 302.2,163.49 302.7,163.45 303.2,163.48 303.7,163.40 304.2,163.36 304.7,163.50 305.2,163.32 305.7,163.44 306.2,163.31 306.7,163.38 307.2,163.33 307.7,163.35 308.2,163.30 308.7,163.45 309.2,163.31 309.7,163.28 310.2,163.27 310.7,163.41 311.2,163.22 311.7,163.16 312.2,163.11 312.7,163.21 313.2,163.13 313.7,163.11 314.2,163.14 314.7,163.23 315.2,163.08 315.7,163.08 316.2,162.89 316.7,162.94 317.2,162.85 317.7,162.71 318.2,162.57 318.7,162.23 319.2,162.17 319.7,161.73 320.2,161.26 320.7,160.83 321.2,160.23 321.7,159.46 322.2,158.67 322.7,157.74 323.2,156.62 323.7,155.52 324.2,154.45 324.7,153.41 325.2,152.50 325.7,151.96 326.2,151.66 326.7,151.37 327.2,151.88 327.7,152.48 328.2,153.40 328.7,154.57 329.2,155.74 329.7,156.78 330.2,158.01 330.7,159.03 331.2,159.85 331.7,160.80 332.2,161.45 332.7,161.98 333.2,162.46 333.7,162.94 334.2,163.21 334.7,163.65 335.2,163.71 335.7,163.82 336.2,164.08 336.7,164.06 337.2,164.18 337.7,164.24 338.2,164.35 338.7,164.37 339.2,164.60 339.7,164.46 340.2,164.53 340.7,164.61 341.2,164.74 341.7,164.57 342.2,164.57 342.7,164.75 343.2,164.64 343.7,164.66 344.2,164.68 344.7,164.79 345.2,164.78 345.7,164.55 346.2,164.85 346.7,164.87 347.2,164.85 347.7,164.78 348.2,164.90 348.7,164.68 349.2,165.03 349.7,164.86 350.2,164.86 350.7,164.95 351.2,165.09 351.7,164.88 352.2,164.97 352.7,164.90 353.2,164.94 353.7,165.05 354.2,165.15 354.7,165.00 355.2,164.98 355.7,165.01 356.2,165.03 356.7,165.00 357.2,165.00 357.7,164.95 358.2,165.00 358.7,165.03 359.2,165.26 359.7,165.01 360.2,165.22 360.7,165.08 361.2,165.08 361.7,165.16 362.2,165.23 362.7,165.09 363.2,165.09 363.7,165.17 364.2,165.19 364.7,165.17 365.2,165.20 365.7,165.19 366.2,165.15 366.7,165.27 367.2,165.39 367.7,165.34 368.2,165.25 368.7,165.30 369.2,165.29 369.7,165.24 370.2,165.26 370.7,165.28 371.2,165.45 371.7,165.39 372.2,165.28 372.7,165.33 373.2,165.38 373.7,165.30 374.2,165.39 374.7,165.30 375.2,165.44 375.7,165.48 376.2,165.39 376.7,165.46 377.2,165.46 377.7,165.48 378.2,165.53 378.7,165.37 379.2,165.47 379.7,165.52 380.2,165.34 380.7,165.56 381.2,165.51 381.7,165.62 382.2,165.55 382.7,165.60 383.2,165.62 383.7,165.56 384.2,165.64 384.7,165.57 385.2,165.44 385.7,165.56 386.2,165.59 386.7,165.69 387.2,165.59 387.7,165.63 388.2,165.68 388.7,165.71 389.2,165.48 389.7,165.64 390.2,165.57 390.7,165.72 391.2,165.77 391.7,165.71 392.2,165.60 392.7,165.63 393.2,165.78 393.7,165.70 394.2,165.62 394.7,165.74 395.2,165.72 395.7,165.60 396.2,165.71 396.7,165.63 397.2,165.72 397.7,165.68 398.2,165.71 398.7,165.50 399.2,165.71 399.7,165.67 400.2,165.84 400.7,165.71 401.2,165.72 401.7,165.59 402.2,165.59 402.7,165.67 403.2,165.77 403.7,165.62 404.2,165.81 404.7,165.75 405.2,165.62 405.7,165.80 406.2,165.60 406.7,165.70 407.2,165.59 407.7,165.66 408.2,165.72 408.7,165.57 409.2,165.70 409.7,165.56 410.2,165.59 410.7,165.68 411.2,165.63 411.7,165.63 412.2,165.47 412.7,165.71 413.2,165.47 413.7,165.39 414.2,165.51 414.7,165.48 415.2,165.61 415.7,165.49 416.2,165.40 416.7,165.34 417.2,165.47 417.7,165.38 418.2,165.32 418.7,165.19 419.2,165.36 419.7,165.23 420.2,165.25 420.7,165.17 421.2,165.05 421.7,164.92 422.2,165.01 422.7,164.96 423.2,164.73 423.7,164.68 424.2,164.71 424.7,164.47 425.2,164.39 425.7,164.07 426.2,163.90 426.7,163.69 427.2,163.42 427.7,162.93 428.2,162.53 428.7,161.88 429.2,160.89 429.7,159.90 430.2,158.44 430.7,156.30 431.2,154.05 431.7,150.90 432.2,147.65 432.7,143.59 433.2,139.29 433.7,135.63 434.2,132.17 434.7,130.15 435.2,129.85 435.7,131.69 436.2,134.77 436.7,138.66 437.2,142.92 437.7,146.93 438.2,150.49 438.7,153.57 439.2,156.24 439.7,158.12 440.2,159.92 440.7,161.00 441.2,161.97 441.7,162.65 442.2,163.27 442.7,163.81 443.2,163.96 443.7,164.37 444.2,164.46 444.7,164.76 445.2,164.90 445.7,165.09 446.2,165.16 446.7,165.44 447.2,165.39 447.7,165.65 448.2,165.70 448.7,165.71 449.2,165.85 449.7,166.06 450.2,166.01 450.7,166.22 451.2,166.14 451.7,166.58 452.2,166.39 452.7,166.68 453.2,166.75 453.7,166.80 454.2,166.85 454.7,166.94 455.2,166.90 455.7,167.24 456.2,167.12 456.7,167.24 457.2,167.28 457.7,167.41 458.2,167.62 458.7,167.60 459.2,167.94" fill="none" stroke="#0808ff" stroke-width="1.45" stroke-linejoin="round"/>
<polyline points="258.7,189.13 259.2,189.32 259.7,189.09 260.2,189.11 260.7,189.11 261.2,189.08 261.7,189.08 262.2,188.95 262.7,188.97 263.2,188.75 263.7,188.82 264.2,188.75 264.7,188.61 265.2,188.56 265.7,188.38 266.2,188.32 266.7,188.27 267.2,188.09 267.7,187.94 268.2,187.79 268.7,187.84 269.2,187.73 269.7,187.55 270.2,187.41 270.7,187.09 271.2,187.19 271.7,187.07 272.2,186.89 272.7,186.79 273.2,186.50 273.7,186.61 274.2,186.50 274.7,186.78 275.2,186.65 275.7,186.86 276.2,186.95 276.7,187.03 277.2,187.22 277.7,187.54 278.2,187.79 278.7,187.99 279.2,188.23 279.7,188.31 280.2,188.43 280.7,188.60 281.2,188.82 281.7,188.98 282.2,189.32 282.7,189.27 283.2,189.55 283.7,189.72 284.2,189.67 284.7,189.80 285.2,189.80 285.7,190.00 286.2,190.00 286.7,190.17 287.2,190.10 287.7,190.05 288.2,190.29 288.7,190.33 289.2,190.33 289.7,190.32 290.2,190.47 290.7,190.50 291.2,190.58 291.7,190.44 292.2,190.71 292.7,190.61 293.2,190.60 293.7,190.71 294.2,190.69 294.7,190.36 295.2,190.61 295.7,190.46 296.2,190.58 296.7,190.38 297.2,190.50 297.7,190.52 298.2,190.48 298.7,190.47 299.2,190.42 299.7,190.34 300.2,190.13 300.7,190.33 301.2,190.25 301.7,190.12 302.2,190.03 302.7,190.10 303.2,189.89 303.7,189.80 304.2,189.75 304.7,189.58 305.2,189.68 305.7,189.33 306.2,189.42 306.7,189.26 307.2,189.12 307.7,188.94 308.2,188.74 308.7,188.71 309.2,188.51 309.7,188.58 310.2,188.33 310.7,188.30 311.2,188.22 311.7,188.12 312.2,187.86 312.7,187.81 313.2,187.50 313.7,187.39 314.2,187.40 314.7,187.18 315.2,186.90 315.7,186.69 316.2,186.42 316.7,186.22 317.2,186.02 317.7,185.59 318.2,185.47 318.7,184.96 319.2,184.82 319.7,184.40 320.2,183.96 320.7,183.41 321.2,183.07 321.7,182.44 322.2,182.03 322.7,181.85 323.2,181.29 323.7,180.77 324.2,180.23 324.7,179.67 325.2,179.32 325.7,178.81 326.2,178.33 326.7,178.19 327.2,177.71 327.7,177.51 328.2,177.48 328.7,177.42 329.2,177.68 329.7,178.11 330.2,178.72 330.7,179.39 331.2,179.93 331.7,181.04 332.2,182.30 332.7,183.20 333.2,184.19 333.7,185.23 334.2,186.25 334.7,187.23 335.2,187.96 335.7,188.68 336.2,189.21 336.7,189.71 337.2,190.07 337.7,190.39 338.2,190.68 338.7,190.84 339.2,191.03 339.7,191.19 340.2,191.28 340.7,191.40 341.2,191.26 341.7,191.49 342.2,191.53 342.7,191.51 343.2,191.52 343.7,191.69 344.2,191.69 344.7,191.75 345.2,191.68 345.7,191.70 346.2,191.79 346.7,191.66 347.2,191.83 347.7,191.59 348.2,191.90 348.7,191.74 349.2,191.72 349.7,191.78 350.2,191.86 350.7,191.84 351.2,191.81 351.7,191.79 352.2,191.75 352.7,191.91 353.2,191.69 353.7,191.75 354.2,191.81 354.7,191.73 355.2,191.80 355.7,191.94 356.2,191.84 356.7,191.98 357.2,191.70 357.7,191.85 358.2,191.93 358.7,191.73 359.2,191.81 359.7,191.70 360.2,191.68 360.7,191.75 361.2,191.69 361.7,191.44 362.2,191.45 362.7,191.56 363.2,191.35 363.7,191.34 364.2,191.26 364.7,191.28 365.2,191.17 365.7,191.27 366.2,191.03 366.7,190.92 367.2,190.95 367.7,190.80 368.2,190.56 368.7,190.48 369.2,190.15 369.7,190.09 370.2,189.84 370.7,189.71 371.2,189.42 371.7,189.32 372.2,188.99 372.7,188.77 373.2,188.72 373.7,188.58 374.2,188.35 374.7,188.55 375.2,188.69 375.7,188.71 376.2,188.95 376.7,189.23 377.2,189.37 377.7,189.39 378.2,189.60 378.7,189.52 379.2,189.55 379.7,189.72 380.2,189.70 380.7,189.74 381.2,189.78 381.7,189.78 382.2,189.75 382.7,190.02 383.2,189.79 383.7,189.96 384.2,189.82 384.7,189.89 385.2,189.80 385.7,189.70 386.2,189.75 386.7,189.63 387.2,189.61 387.7,189.55 388.2,189.54 388.7,189.53 389.2,189.64 389.7,189.70 390.2,189.77 390.7,189.75 391.2,189.83 391.7,190.03 392.2,189.91 392.7,190.05 393.2,190.43 393.7,190.70 394.2,191.06 394.7,191.60 395.2,191.85 395.7,192.21 396.2,192.37 396.7,192.33 397.2,192.65 397.7,192.74 398.2,192.79 398.7,192.95 399.2,192.95 399.7,193.02 400.2,192.96 400.7,192.91 401.2,192.92 401.7,192.94 402.2,193.16 402.7,192.95 403.2,193.07 403.7,192.86 404.2,192.96 404.7,193.04 405.2,192.95 405.7,192.91 406.2,192.90 406.7,192.76 407.2,192.96 407.7,192.67 408.2,192.60 408.7,192.68 409.2,192.49 409.7,192.26 410.2,192.11 410.7,192.06 411.2,191.73 411.7,191.68 412.2,191.44 412.7,191.31 413.2,191.06 413.7,190.89 414.2,190.65 414.7,190.52 415.2,190.27 415.7,190.07 416.2,189.88 416.7,189.75 417.2,189.29 417.7,189.06 418.2,188.96 418.7,188.69 419.2,188.26 419.7,188.04 420.2,187.75 420.7,187.41 421.2,187.10 421.7,186.83 422.2,186.43 422.7,185.92 423.2,185.56 423.7,185.12 424.2,184.75 424.7,184.05 425.2,183.77 425.7,183.25 426.2,182.66 426.7,182.02 427.2,181.33 427.7,180.86 428.2,180.09 428.7,179.41 429.2,178.64 429.7,177.93 430.2,176.75 430.7,175.80 431.2,174.76 431.7,173.13 432.2,171.59 432.7,170.06 433.2,168.41 433.7,166.91 434.2,165.28 434.7,163.98 435.2,162.59 435.7,161.91 436.2,161.51 436.7,161.15 437.2,161.42 437.7,161.87 438.2,163.18 438.7,165.38 439.2,167.35 439.7,169.82 440.2,172.41 440.7,175.11 441.2,177.69 441.7,180.61 442.2,183.57 442.7,186.24 443.2,188.17 443.7,189.35 444.2,190.18 444.7,191.42 445.2,191.98 445.7,192.73 446.2,193.39 446.7,193.71 447.2,194.07 447.7,194.17 448.2,194.47 448.7,194.63 449.2,194.80 449.7,195.05 450.2,195.20 450.7,195.31 451.2,195.51 451.7,195.53 452.2,195.66 452.7,195.84 453.2,195.79 453.7,195.99 454.2,196.04 454.7,196.20 455.2,196.32 455.7,196.36 456.2,196.29 456.7,196.66 457.2,196.63 457.7,196.73 458.2,196.81 458.7,196.70 459.2,196.88" fill="none" stroke="#ff0808" stroke-width="1.45" stroke-linejoin="round"/>
<polyline points="258.7,246.07 259.2,246.07 259.7,246.23 260.2,246.11 260.7,245.92 261.2,246.06 261.7,246.09 262.2,245.96 262.7,245.99 263.2,246.01 263.7,245.85 264.2,245.78 264.7,246.00 265.2,245.89 265.7,245.90 266.2,245.80 266.7,245.80 267.2,245.81 267.7,245.78 268.2,245.78 268.7,245.91 269.2,245.85 269.7,245.94 270.2,245.93 270.7,245.78 271.2,245.89 271.7,245.82 272.2,245.86 272.7,245.58 273.2,245.75 273.7,245.91 274.2,245.82 274.7,245.87 275.2,245.91 275.7,245.89 276.2,245.78 276.7,245.79 277.2,245.73 277.7,245.80 278.2,245.73 278.7,245.90 279.2,245.77 279.7,245.89 280.2,245.85 280.7,245.73 281.2,245.56 281.7,245.85 282.2,245.51 282.7,245.83 283.2,245.48 283.7,245.66 284.2,245.80 284.7,245.77 285.2,245.58 285.7,245.61 286.2,245.65 286.7,245.65 287.2,245.78 287.7,245.58 288.2,245.80 288.7,245.65 289.2,245.80 289.7,245.71 290.2,245.68 290.7,245.62 291.2,245.75 291.7,245.75 292.2,245.75 292.7,245.69 293.2,245.70 293.7,245.65 294.2,245.70 294.7,245.56 295.2,245.72 295.7,245.58 296.2,245.68 296.7,245.45 297.2,245.58 297.7,245.55 298.2,245.74 298.7,245.79 299.2,245.48 299.7,245.59 300.2,245.67 300.7,245.59 301.2,245.73 301.7,245.56 302.2,245.66 302.7,245.68 303.2,245.52 303.7,245.51 304.2,245.55 304.7,245.46 305.2,245.53 305.7,245.46 306.2,245.50 306.7,245.55 307.2,245.45 307.7,245.34 308.2,245.32 308.7,245.44 309.2,245.32 309.7,245.50 310.2,245.25 310.7,245.42 311.2,245.50 311.7,245.29 312.2,245.33 312.7,245.27 313.2,245.29 313.7,245.36 314.2,245.18 314.7,245.22 315.2,245.19 315.7,245.05 316.2,245.03 316.7,244.89 317.2,244.84 317.7,244.70 318.2,244.49 318.7,244.42 319.2,244.15 319.7,243.69 320.2,243.51 320.7,242.87 321.2,242.27 321.7,241.54 322.2,240.80 322.7,239.77 323.2,238.71 323.7,237.61 324.2,236.61 324.7,235.68 325.2,234.75 325.7,234.11 326.2,233.71 326.7,233.82 327.2,234.07 327.7,234.73 328.2,235.69 328.7,236.73 329.2,237.89 329.7,239.02 330.2,240.00 330.7,241.11 331.2,241.83 331.7,242.73 332.2,243.37 332.7,243.88 333.2,244.39 333.7,244.75 334.2,245.23 334.7,245.51 335.2,245.47 335.7,245.86 336.2,245.94 336.7,245.95 337.2,245.97 337.7,246.17 338.2,246.18 338.7,246.34 339.2,246.38 339.7,246.47 340.2,246.42 340.7,246.57 341.2,246.72 341.7,246.45 342.2,246.47 342.7,246.80 343.2,246.73 343.7,246.92 344.2,246.83 344.7,246.74 345.2,246.76 345.7,246.89 346.2,247.09 346.7,247.02 347.2,247.02 347.7,247.31 348.2,247.17 348.7,247.22 349.2,247.20 349.7,247.39 350.2,247.27 350.7,247.32 351.2,247.33 351.7,247.31 352.2,247.45 352.7,247.34 353.2,247.47 353.7,247.40 354.2,247.35 354.7,247.42 355.2,247.43 355.7,247.60 356.2,247.31 356.7,247.48 357.2,247.68 357.7,247.72 358.2,247.68 358.7,247.75 359.2,247.63 359.7,247.64 360.2,247.66 360.7,247.73 361.2,247.60 361.7,247.77 362.2,247.90 362.7,247.68 363.2,247.86 363.7,247.89 364.2,247.69 364.7,247.89 365.2,247.87 365.7,247.81 366.2,247.89 366.7,247.85 367.2,247.89 367.7,247.95 368.2,247.83 368.7,247.94 369.2,247.93 369.7,248.02 370.2,247.81 370.7,247.84 371.2,247.86 371.7,247.96 372.2,248.02 372.7,247.87 373.2,247.95 373.7,248.08 374.2,248.04 374.7,247.95 375.2,247.86 375.7,247.98 376.2,247.96 376.7,248.04 377.2,248.14 377.7,247.99 378.2,247.95 378.7,248.11 379.2,248.11 379.7,248.20 380.2,248.04 380.7,248.12 381.2,247.96 381.7,248.30 382.2,247.97 382.7,248.06 383.2,247.97 383.7,247.98 384.2,247.99 384.7,248.14 385.2,248.05 385.7,248.14 386.2,248.09 386.7,248.12 387.2,248.05 387.7,248.01 388.2,248.13 388.7,248.23 389.2,247.98 389.7,248.00 390.2,248.24 390.7,248.23 391.2,248.19 391.7,248.06 392.2,248.14 392.7,248.17 393.2,248.24 393.7,248.22 394.2,248.03 394.7,248.05 395.2,248.15 395.7,248.14 396.2,248.25 396.7,248.28 397.2,248.22 397.7,248.04 398.2,248.13 398.7,248.17 399.2,248.09 399.7,248.19 400.2,248.10 400.7,248.20 401.2,248.24 401.7,248.11 402.2,248.24 402.7,248.01 403.2,248.08 403.7,248.28 404.2,248.14 404.7,248.11 405.2,248.10 405.7,248.18 406.2,248.20 406.7,248.05 407.2,248.20 407.7,248.23 408.2,248.14 408.7,248.22 409.2,248.07 409.7,248.04 410.2,248.02 410.7,248.21 411.2,248.00 411.7,248.15 412.2,248.11 412.7,247.99 413.2,248.05 413.7,248.25 414.2,247.87 414.7,248.17 415.2,247.87 415.7,247.84 416.2,247.99 416.7,247.99 417.2,248.02 417.7,247.87 418.2,247.86 418.7,247.84 419.2,247.70 419.7,247.83 420.2,247.64 420.7,247.57 421.2,247.58 421.7,247.43 422.2,247.44 422.7,247.38 423.2,247.25 423.7,247.02 424.2,247.08 424.7,246.79 425.2,246.80 425.7,246.65 426.2,246.36 426.7,246.09 427.2,245.75 427.7,245.26 428.2,244.75 428.7,244.16 429.2,243.20 429.7,241.95 430.2,240.34 430.7,238.10 431.2,235.67 431.7,232.48 432.2,228.94 432.7,224.92 433.2,220.79 433.7,216.68 434.2,213.45 434.7,211.83 435.2,211.94 435.7,214.18 436.2,217.52 436.7,221.85 437.2,226.09 437.7,230.10 438.2,233.63 438.7,236.61 439.2,239.29 439.7,241.37 440.2,242.82 440.7,244.18 441.2,245.17 441.7,245.97 442.2,246.25 442.7,246.79 443.2,247.20 443.7,247.64 444.2,247.80 444.7,248.05 445.2,248.23 445.7,248.21 446.2,248.50 446.7,248.63 447.2,248.68 447.7,248.92 448.2,249.02 448.7,249.33 449.2,249.22 449.7,249.25 450.2,249.38 450.7,249.63 451.2,249.76 451.7,249.78 452.2,249.80 452.7,249.80 453.2,249.87 453.7,250.06 454.2,250.07 454.7,250.32 455.2,250.18 455.7,250.31 456.2,250.48 456.7,250.46 457.2,250.43 457.7,250.64 458.2,250.77 458.7,250.73 459.2,250.76" fill="none" stroke="#0808ff" stroke-width="1.45" stroke-linejoin="round"/>
<polyline points="258.7,273.66 259.2,273.76 259.7,273.63 260.2,273.59 260.7,273.78 261.2,273.69 261.7,273.51 262.2,273.40 262.7,273.60 263.2,273.56 263.7,273.43 264.2,273.35 264.7,273.44 265.2,273.53 265.7,273.38 266.2,273.19 266.7,273.17 267.2,272.98 267.7,272.78 268.2,272.96 268.7,272.85 269.2,273.00 269.7,272.75 270.2,272.81 270.7,272.73 271.2,272.47 271.7,272.51 272.2,272.47 272.7,272.32 273.2,272.45 273.7,272.37 274.2,272.25 274.7,272.33 275.2,272.30 275.7,272.35 276.2,272.34 276.7,272.42 277.2,272.55 277.7,272.70 278.2,272.78 278.7,273.03 279.2,273.05 279.7,273.11 280.2,273.17 280.7,273.13 281.2,273.35 281.7,273.55 282.2,273.67 282.7,273.83 283.2,273.82 283.7,274.07 284.2,273.83 284.7,274.16 285.2,274.05 285.7,274.35 286.2,274.35 286.7,274.25 287.2,274.32 287.7,274.52 288.2,274.50 288.7,274.52 289.2,274.50 289.7,274.65 290.2,274.61 290.7,274.65 291.2,274.63 291.7,274.76 292.2,274.75 292.7,274.72 293.2,274.72 293.7,274.77 294.2,274.71 294.7,274.90 295.2,274.84 295.7,274.74 296.2,274.92 296.7,274.65 297.2,274.80 297.7,274.75 298.2,274.67 298.7,274.79 299.2,274.73 299.7,274.67 300.2,274.80 300.7,274.65 301.2,274.63 301.7,274.54 302.2,274.47 302.7,274.56 303.2,274.39 303.7,274.36 304.2,274.41 304.7,274.19 305.2,274.35 305.7,274.30 306.2,274.28 306.7,274.09 307.2,274.07 307.7,273.96 308.2,273.91 308.7,274.04 309.2,273.90 309.7,273.74 310.2,273.64 310.7,273.63 311.2,273.50 311.7,273.42 312.2,273.35 312.7,273.30 313.2,273.10 313.7,273.02 314.2,272.88 314.7,272.63 315.2,272.30 315.7,272.10 316.2,272.09 316.7,272.04 317.2,271.79 317.7,271.55 318.2,271.23 318.7,270.93 319.2,270.70 319.7,270.29 320.2,270.08 320.7,269.72 321.2,269.14 321.7,268.86 322.2,268.13 322.7,267.69 323.2,267.29 323.7,266.48 324.2,265.87 324.7,265.24 325.2,264.38 325.7,263.90 326.2,263.24 326.7,262.66 327.2,262.12 327.7,261.62 328.2,261.38 328.7,261.55 329.2,261.85 329.7,262.41 330.2,262.97 330.7,263.65 331.2,264.73 331.7,265.63 332.2,266.70 332.7,267.47 333.2,268.41 333.7,269.37 334.2,270.28 334.7,271.07 335.2,271.78 335.7,272.40 336.2,273.00 336.7,273.56 337.2,274.17 337.7,274.53 338.2,275.03 338.7,275.11 339.2,275.30 339.7,275.58 340.2,275.54 340.7,275.71 341.2,275.77 341.7,275.96 342.2,275.99 342.7,276.14 343.2,276.17 343.7,276.19 344.2,276.18 344.7,276.19 345.2,276.22 345.7,276.14 346.2,276.22 346.7,276.20 347.2,276.15 347.7,276.13 348.2,276.15 348.7,276.11 349.2,276.04 349.7,276.16 350.2,276.11 350.7,275.99 351.2,276.10 351.7,275.99 352.2,275.96 352.7,275.99 353.2,275.85 353.7,275.88 354.2,275.86 354.7,275.78 355.2,275.80 355.7,275.62 356.2,275.68 356.7,275.60 357.2,275.71 357.7,275.66 358.2,275.40 358.7,275.55 359.2,275.67 359.7,275.36 360.2,275.58 360.7,275.49 361.2,275.42 361.7,275.47 362.2,275.36 362.7,275.36 363.2,275.17 363.7,275.35 364.2,275.25 364.7,275.24 365.2,275.20 365.7,275.34 366.2,275.10 366.7,275.14 367.2,274.96 367.7,275.06 368.2,274.95 368.7,274.84 369.2,274.62 369.7,274.53 370.2,274.41 370.7,274.46 371.2,274.31 371.7,274.14 372.2,274.07 372.7,274.10 373.2,274.03 373.7,273.92 374.2,273.86 374.7,273.91 375.2,273.83 375.7,273.95 376.2,274.06 376.7,274.07 377.2,274.30 377.7,274.24 378.2,274.25 378.7,274.43 379.2,274.40 379.7,274.55 380.2,274.48 380.7,274.50 381.2,274.55 381.7,274.61 382.2,274.48 382.7,274.48 383.2,274.54 383.7,274.62 384.2,274.49 384.7,274.47 385.2,274.45 385.7,274.46 386.2,274.36 386.7,274.64 387.2,274.53 387.7,274.54 388.2,274.70 388.7,274.55 389.2,274.62 389.7,274.53 390.2,274.62 390.7,274.59 391.2,274.81 391.7,274.60 392.2,274.79 392.7,274.90 393.2,275.11 393.7,275.32 394.2,275.59 394.7,275.95 395.2,276.11 395.7,276.51 396.2,276.60 396.7,276.51 397.2,276.68 397.7,276.77 398.2,276.79 398.7,276.98 399.2,277.06 399.7,276.84 400.2,277.03 400.7,277.28 401.2,277.19 401.7,277.22 402.2,277.30 402.7,277.38 403.2,277.38 403.7,277.18 404.2,277.32 404.7,277.43 405.2,277.12 405.7,277.10 406.2,276.98 406.7,276.98 407.2,276.92 407.7,276.92 408.2,276.85 408.7,276.89 409.2,276.77 409.7,276.56 410.2,276.63 410.7,276.56 411.2,276.32 411.7,276.41 412.2,276.18 412.7,276.19 413.2,276.07 413.7,275.77 414.2,275.74 414.7,275.69 415.2,275.50 415.7,275.28 416.2,275.25 416.7,274.98 417.2,274.96 417.7,274.77 418.2,274.63 418.7,274.21 419.2,274.09 419.7,273.80 420.2,273.45 420.7,273.15 421.2,272.98 421.7,272.57 422.2,272.18 422.7,271.90 423.2,271.50 423.7,271.06 424.2,270.52 424.7,270.27 425.2,269.65 425.7,269.14 426.2,268.49 426.7,267.99 427.2,266.98 427.7,266.29 428.2,265.65 428.7,264.64 429.2,263.27 429.7,262.23 430.2,260.82 430.7,259.42 431.2,258.18 431.7,256.72 432.2,255.14 432.7,253.28 433.2,251.41 433.7,249.53 434.2,248.27 434.7,246.79 435.2,245.50 435.7,244.12 436.2,243.65 436.7,243.42 437.2,243.32 437.7,243.36 438.2,244.17 438.7,245.71 439.2,248.18 439.7,251.37 440.2,254.51 440.7,257.40 441.2,260.58 441.7,263.92 442.2,266.62 442.7,268.71 443.2,270.35 443.7,271.88 444.2,273.23 444.7,274.38 445.2,275.26 445.7,275.91 446.2,276.59 446.7,276.81 447.2,277.39 447.7,277.52 448.2,277.93 448.7,278.16 449.2,278.58 449.7,278.84 450.2,278.92 450.7,279.07 451.2,279.38 451.7,279.35 452.2,279.54 452.7,279.60 453.2,279.80 453.7,279.78 454.2,279.98 454.7,280.21 455.2,280.17 455.7,280.19 456.2,280.34 456.7,280.53 457.2,280.58 457.7,280.64 458.2,280.69 458.7,280.78 459.2,280.92" fill="none" stroke="#ff0808" stroke-width="1.45" stroke-linejoin="round"/>
<path d="M258.20 293.4v-3.8 M258.20 15.4v3.8 M263.64 293.4v-2.0 M263.64 15.4v1.9 M269.09 293.4v-2.0 M269.09 15.4v1.9 M274.53 293.4v-2.0 M274.53 15.4v1.9 M279.97 293.4v-2.0 M279.97 15.4v1.9 M285.42 293.4v-3.8 M285.42 15.4v3.8 M290.86 293.4v-2.0 M290.86 15.4v1.9 M296.30 293.4v-2.0 M296.30 15.4v1.9 M301.75 293.4v-2.0 M301.75 15.4v1.9 M307.19 293.4v-2.0 M307.19 15.4v1.9 M312.63 293.4v-3.8 M312.63 15.4v3.8 M318.08 293.4v-2.0 M318.08 15.4v1.9 M323.52 293.4v-2.0 M323.52 15.4v1.9 M328.96 293.4v-2.0 M328.96 15.4v1.9 M334.41 293.4v-2.0 M334.41 15.4v1.9 M339.85 293.4v-3.8 M339.85 15.4v3.8 M345.29 293.4v-2.0 M345.29 15.4v1.9 M350.74 293.4v-2.0 M350.74 15.4v1.9 M356.18 293.4v-2.0 M356.18 15.4v1.9 M361.62 293.4v-2.0 M361.62 15.4v1.9 M367.06 293.4v-3.8 M367.06 15.4v3.8 M372.51 293.4v-2.0 M372.51 15.4v1.9 M377.95 293.4v-2.0 M377.95 15.4v1.9 M383.39 293.4v-2.0 M383.39 15.4v1.9 M388.84 293.4v-2.0 M388.84 15.4v1.9 M394.28 293.4v-3.8 M394.28 15.4v3.8 M399.72 293.4v-2.0 M399.72 15.4v1.9 M405.17 293.4v-2.0 M405.17 15.4v1.9 M410.61 293.4v-2.0 M410.61 15.4v1.9 M416.05 293.4v-2.0 M416.05 15.4v1.9 M421.50 293.4v-3.8 M421.50 15.4v3.8 M426.94 293.4v-2.0 M426.94 15.4v1.9 M432.38 293.4v-2.0 M432.38 15.4v1.9 M437.83 293.4v-2.0 M437.83 15.4v1.9 M443.27 293.4v-2.0 M443.27 15.4v1.9 M448.71 293.4v-3.8 M448.71 15.4v3.8 M454.16 293.4v-2.0 M454.16 15.4v1.9 M459.60 293.4v-2.0 M459.60 15.4v1.9 M258.2 19.41h2.3 M459.60 19.41h-2.3 M258.2 23.98h2.3 M459.60 23.98h-2.3 M258.2 28.56h2.3 M459.60 28.56h-2.3 M258.2 33.13h2.3 M459.60 33.13h-2.3 M258.2 37.70h3.8 M459.60 37.70h-3.8 M258.2 42.27h2.3 M459.60 42.27h-2.3 M258.2 46.84h2.3 M459.60 46.84h-2.3 M258.2 51.42h2.3 M459.60 51.42h-2.3 M258.2 55.99h2.3 M459.60 55.99h-2.3 M258.2 60.56h3.8 M459.60 60.56h-3.8 M258.2 65.13h2.3 M459.60 65.13h-2.3 M258.2 69.70h2.3 M459.60 69.70h-2.3 M258.2 74.28h2.3 M459.60 74.28h-2.3 M258.2 78.85h2.3 M459.60 78.85h-2.3 M258.2 83.42h3.8 M459.60 83.42h-3.8 M258.2 87.99h2.3 M459.60 87.99h-2.3 M258.2 92.56h2.3 M459.60 92.56h-2.3 M258.2 97.14h2.3 M459.60 97.14h-2.3 M258.2 101.71h2.3 M459.60 101.71h-2.3 M258.2 106.28h3.8 M459.60 106.28h-3.8 M258.2 110.85h2.3 M459.60 110.85h-2.3 M258.2 115.42h2.3 M459.60 115.42h-2.3 M258.2 120.00h2.3 M459.60 120.00h-2.3 M258.2 124.57h2.3 M459.60 124.57h-2.3 M258.2 129.14h3.8 M459.60 129.14h-3.8 M258.2 133.71h2.3 M459.60 133.71h-2.3 M258.2 138.28h2.3 M459.60 138.28h-2.3 M258.2 142.86h2.3 M459.60 142.86h-2.3 M258.2 147.43h2.3 M459.60 147.43h-2.3 M258.2 152.00h3.8 M459.60 152.00h-3.8 M258.2 156.57h2.3 M459.60 156.57h-2.3 M258.2 161.14h2.3 M459.60 161.14h-2.3 M258.2 165.72h2.3 M459.60 165.72h-2.3 M258.2 170.29h2.3 M459.60 170.29h-2.3 M258.2 174.86h3.8 M459.60 174.86h-3.8 M258.2 179.43h2.3 M459.60 179.43h-2.3 M258.2 184.00h2.3 M459.60 184.00h-2.3 M258.2 188.58h2.3 M459.60 188.58h-2.3 M258.2 193.15h2.3 M459.60 193.15h-2.3 M258.2 197.72h3.8 M459.60 197.72h-3.8 M258.2 202.29h2.3 M459.60 202.29h-2.3 M258.2 206.86h2.3 M459.60 206.86h-2.3 M258.2 211.44h2.3 M459.60 211.44h-2.3 M258.2 216.01h2.3 M459.60 216.01h-2.3 M258.2 220.58h3.8 M459.60 220.58h-3.8 M258.2 225.15h2.3 M459.60 225.15h-2.3 M258.2 229.72h2.3 M459.60 229.72h-2.3 M258.2 234.30h2.3 M459.60 234.30h-2.3 M258.2 238.87h2.3 M459.60 238.87h-2.3 M258.2 243.44h3.8 M459.60 243.44h-3.8 M258.2 248.01h2.3 M459.60 248.01h-2.3 M258.2 252.58h2.3 M459.60 252.58h-2.3 M258.2 257.16h2.3 M459.60 257.16h-2.3 M258.2 261.73h2.3 M459.60 261.73h-2.3 M258.2 266.30h3.8 M459.60 266.30h-3.8 M258.2 270.87h2.3 M459.60 270.87h-2.3 M258.2 275.44h2.3 M459.60 275.44h-2.3 M258.2 280.02h2.3 M459.60 280.02h-2.3 M258.2 284.59h2.3 M459.60 284.59h-2.3 M258.2 289.16h3.8 M459.60 289.16h-3.8" stroke="#111" stroke-width="0.9" fill="none"/>
<rect x="258.2" y="15.4" width="201.4" height="278.0" fill="none" stroke="#111" stroke-width="1.45"/>
<line x1="257.5" y1="293.54999999999995" x2="460.30" y2="293.54999999999995" stroke="#111" stroke-width="1.8"/>
<text x="258.2" y="304.3" font-size="8.2" font-weight="normal" text-anchor="middle" fill="#333" >965</text>
<text x="285.4" y="304.3" font-size="8.2" font-weight="normal" text-anchor="middle" fill="#333" >960</text>
<text x="312.6" y="304.3" font-size="8.2" font-weight="normal" text-anchor="middle" fill="#333" >955</text>
<text x="339.8" y="304.3" font-size="8.2" font-weight="normal" text-anchor="middle" fill="#333" >950</text>
<text x="367.1" y="304.3" font-size="8.2" font-weight="normal" text-anchor="middle" fill="#333" >945</text>
<text x="394.3" y="304.3" font-size="8.2" font-weight="normal" text-anchor="middle" fill="#333" >940</text>
<text x="421.5" y="304.3" font-size="8.2" font-weight="normal" text-anchor="middle" fill="#333" >935</text>
<text x="448.7" y="304.3" font-size="8.2" font-weight="normal" text-anchor="middle" fill="#333" >930</text>
<text x="310.4" y="320.5" font-size="9.7" font-weight="bold" fill="#1a1a1a" textLength="97.0" lengthAdjust="spacingAndGlyphs">Binding Energy [eV]</text>
<text x="262.4" y="7.8" font-size="10.9" font-weight="bold" text-anchor="start" fill="#1a1a1a" >(b) LE</text>
<text transform="translate(241.7,146.8) rotate(-90)" font-size="10.3" font-weight="bold" text-anchor="middle" fill="#1a1a1a">Intensity [a.u.]</text>
<text x="262.7" y="27.0" font-size="8.9" font-weight="bold" text-anchor="start" fill="#222" >Surface</text>
<text x="262.9" y="128.4" font-size="9.0" font-weight="bold" text-anchor="start" fill="#222" >70 nm</text>
<text x="262.8" y="216.5" font-size="9.0" font-weight="bold" text-anchor="start" fill="#222" >140 nm</text>
<rect x="492.8" y="118.1" width="198.5" height="87.3" fill="#f3f3f3"/>
<rect x="492.8" y="205.4" width="198.5" height="84.3" fill="#dfdfdf"/>
<path d="M518.62 15.4V293.4 M545.83 15.4V293.4 M573.05 15.4V293.4 M600.26 15.4V293.4 M627.48 15.4V293.4 M654.70 15.4V293.4 M681.91 15.4V293.4 M491.4 37.70H692.80 M491.4 60.56H692.80 M491.4 83.42H692.80 M491.4 106.28H692.80 M491.4 129.14H692.80 M491.4 152.00H692.80 M491.4 174.86H692.80 M491.4 197.72H692.80 M491.4 220.58H692.80 M491.4 243.44H692.80 M491.4 266.30H692.80 M491.4 289.16H692.80" stroke="#000" stroke-opacity="0.12" stroke-width="0.8" fill="none"/>
<polyline points="491.9,63.00 492.4,62.94 492.9,62.96 493.4,62.98 493.9,62.75 494.4,62.99 494.9,62.77 495.4,62.71 495.9,62.62 496.4,62.72 496.9,62.64 497.4,62.62 497.9,62.50 498.4,62.35 498.9,62.23 499.4,62.15 499.9,61.87 500.4,61.78 500.9,61.66 501.4,61.43 501.9,61.36 502.4,61.11 502.9,61.01 503.4,60.76 503.9,60.55 504.4,60.15 504.9,59.95 505.4,59.87 505.9,59.54 506.4,59.29 506.9,59.18 507.4,58.96 507.9,58.68 508.4,58.44 508.9,58.51 509.4,58.36 509.9,58.24 510.4,58.61 510.9,58.86 511.4,59.16 511.9,59.38 512.4,59.82 512.9,59.89 513.4,60.31 513.9,60.51 514.4,60.90 514.9,61.01 515.4,61.37 515.9,61.63 516.4,61.77 516.9,62.00 517.4,62.16 517.9,62.41 518.4,62.61 518.9,62.71 519.4,62.93 519.9,63.01 520.4,63.16 520.9,63.19 521.4,63.37 521.9,63.51 522.4,63.67 522.9,63.85 523.4,63.81 523.9,63.86 524.4,63.94 524.9,63.86 525.4,64.03 525.9,64.00 526.4,64.07 526.9,64.31 527.4,64.32 527.9,64.27 528.4,64.24 528.9,64.24 529.4,64.10 529.9,64.05 530.4,64.15 530.9,64.04 531.4,63.97 531.9,63.97 532.4,63.91 532.9,63.87 533.4,63.74 533.9,63.74 534.4,63.58 534.9,63.71 535.4,63.65 535.9,63.36 536.4,63.40 536.9,63.25 537.4,63.18 537.9,63.07 538.4,63.06 538.9,62.89 539.4,62.67 539.9,62.63 540.4,62.51 540.9,62.32 541.4,62.28 541.9,62.13 542.4,62.10 542.9,61.84 543.4,61.74 543.9,61.37 544.4,61.26 544.9,61.25 545.4,61.06 545.9,60.94 546.4,60.57 546.9,60.42 547.4,60.01 547.9,59.89 548.4,59.66 548.9,59.42 549.4,59.11 549.9,58.95 550.4,58.48 550.9,58.22 551.4,58.09 551.9,57.76 552.4,57.63 552.9,57.32 553.4,57.02 553.9,56.59 554.4,56.41 554.9,56.21 555.4,55.86 555.9,55.65 556.4,55.36 556.9,54.98 557.4,54.65 557.9,54.47 558.4,54.02 558.9,53.65 559.4,53.39 559.9,53.18 560.4,52.60 560.9,52.75 561.4,52.59 561.9,52.51 562.4,52.79 562.9,52.96 563.4,53.43 563.9,53.77 564.4,54.27 564.9,54.95 565.4,55.90 565.9,56.74 566.4,57.63 566.9,58.48 567.4,59.26 567.9,60.03 568.4,60.99 568.9,61.53 569.4,62.19 569.9,62.72 570.4,63.05 570.9,63.91 571.4,64.09 571.9,64.58 572.4,64.68 572.9,65.10 573.4,65.18 573.9,65.45 574.4,65.76 574.9,65.88 575.4,66.00 575.9,66.10 576.4,66.02 576.9,66.15 577.4,66.34 577.9,66.44 578.4,66.40 578.9,66.44 579.4,66.47 579.9,66.51 580.4,66.52 580.9,66.42 581.4,66.61 581.9,66.48 582.4,66.45 582.9,66.59 583.4,66.48 583.9,66.51 584.4,66.61 584.9,66.53 585.4,66.52 585.9,66.62 586.4,66.66 586.9,66.61 587.4,66.61 587.9,66.40 588.4,66.55 588.9,66.47 589.4,66.39 589.9,66.41 590.4,66.39 590.9,66.32 591.4,66.24 591.9,66.41 592.4,66.40 592.9,66.48 593.4,66.46 593.9,66.37 594.4,66.42 594.9,66.47 595.4,66.28 595.9,66.31 596.4,66.34 596.9,66.20 597.4,66.20 597.9,66.31 598.4,66.19 598.9,66.21 599.4,66.11 599.9,66.14 600.4,65.99 600.9,65.89 601.4,65.76 601.9,65.59 602.4,65.38 602.9,65.47 603.4,64.98 603.9,64.71 604.4,64.20 604.9,63.97 605.4,63.65 605.9,63.26 606.4,63.16 606.9,62.77 607.4,62.29 607.9,62.08 608.4,61.83 608.9,61.61 609.4,61.54 609.9,61.57 610.4,61.70 610.9,61.77 611.4,62.04 611.9,62.26 612.4,62.28 612.9,62.38 613.4,62.29 613.9,62.18 614.4,62.11 614.9,62.10 615.4,62.13 615.9,62.07 616.4,61.83 616.9,62.05 617.4,62.11 617.9,61.90 618.4,61.96 618.9,61.84 619.4,61.97 619.9,61.78 620.4,61.81 620.9,61.93 621.4,61.88 621.9,61.78 622.4,61.91 622.9,61.89 623.4,61.96 623.9,62.05 624.4,62.11 624.9,61.98 625.4,62.06 625.9,62.25 626.4,62.28 626.9,62.19 627.4,62.76 627.9,62.89 628.4,63.32 628.9,63.66 629.4,64.05 629.9,64.47 630.4,64.57 630.9,65.00 631.4,65.22 631.9,65.64 632.4,65.98 632.9,66.30 633.4,66.42 633.9,66.78 634.4,66.74 634.9,66.85 635.4,66.88 635.9,66.87 636.4,66.92 636.9,66.94 637.4,67.07 637.9,66.86 638.4,67.10 638.9,67.17 639.4,67.08 639.9,67.11 640.4,67.23 640.9,67.23 641.4,67.16 641.9,66.90 642.4,67.16 642.9,66.90 643.4,67.06 643.9,66.71 644.4,66.64 644.9,66.43 645.4,66.39 645.9,66.34 646.4,66.11 646.9,66.00 647.4,65.80 647.9,65.42 648.4,65.38 648.9,65.04 649.4,64.88 649.9,64.49 650.4,64.39 650.9,63.95 651.4,63.86 651.9,63.35 652.4,63.13 652.9,62.63 653.4,62.41 653.9,61.97 654.4,61.68 654.9,61.35 655.4,60.89 655.9,60.31 656.4,59.80 656.9,59.39 657.4,58.85 657.9,58.51 658.4,57.94 658.9,57.42 659.4,56.70 659.9,56.14 660.4,55.52 660.9,54.97 661.4,54.30 661.9,53.40 662.4,52.95 662.9,52.26 663.4,51.20 663.9,50.48 664.4,49.77 664.9,48.77 665.4,47.89 665.9,46.96 666.4,45.86 666.9,44.96 667.4,43.84 667.9,42.68 668.4,41.46 668.9,40.36 669.4,39.48 669.9,38.61 670.4,38.32 670.9,38.64 671.4,38.83 671.9,39.47 672.4,41.09 672.9,42.95 673.4,45.41 673.9,48.31 674.4,51.06 674.9,53.54 675.4,55.84 675.9,58.19 676.4,60.07 676.9,61.72 677.4,62.93 677.9,64.24 678.4,65.43 678.9,66.54 679.4,67.28 679.9,68.12 680.4,68.67 680.9,68.98 681.4,69.40 681.9,69.58 682.4,69.91 682.9,70.12 683.4,70.37 683.9,70.56 684.4,70.52 684.9,70.60 685.4,70.72 685.9,70.97 686.4,71.01 686.9,71.12 687.4,71.04 687.9,71.18 688.4,71.28 688.9,71.14 689.4,71.31 689.9,71.41 690.4,71.44 690.9,71.39 691.4,71.46 691.9,71.55 692.4,71.54" fill="none" stroke="#0808ff" stroke-width="1.45" stroke-linejoin="round"/>
<polyline points="491.9,98.67 492.4,98.63 492.9,98.64 493.4,98.59 493.9,98.68 494.4,98.48 494.9,98.69 495.4,98.58 495.9,98.59 496.4,98.52 496.9,98.47 497.4,98.50 497.9,98.45 498.4,98.20 498.9,97.99 499.4,97.61 499.9,97.34 500.4,97.00 500.9,96.63 501.4,96.42 501.9,96.07 502.4,95.83 502.9,95.39 503.4,95.04 503.9,94.72 504.4,94.40 504.9,93.99 505.4,93.69 505.9,93.42 506.4,93.17 506.9,92.70 507.4,92.38 507.9,92.44 508.4,91.98 508.9,91.86 509.4,91.63 509.9,91.83 510.4,92.02 510.9,92.23 511.4,92.53 511.9,92.87 512.4,93.21 512.9,93.54 513.4,93.69 513.9,94.02 514.4,94.52 514.9,94.86 515.4,95.14 515.9,95.45 516.4,95.83 516.9,96.20 517.4,96.53 517.9,96.85 518.4,97.11 518.9,97.26 519.4,97.75 519.9,97.93 520.4,98.12 520.9,98.34 521.4,98.64 521.9,98.72 522.4,98.89 522.9,99.06 523.4,99.29 523.9,99.19 524.4,99.50 524.9,99.37 525.4,99.57 525.9,99.75 526.4,99.90 526.9,99.79 527.4,100.02 527.9,100.08 528.4,99.96 528.9,99.97 529.4,99.97 529.9,99.83 530.4,100.16 530.9,99.99 531.4,99.83 531.9,99.96 532.4,99.93 532.9,99.85 533.4,99.85 533.9,99.89 534.4,99.75 534.9,99.68 535.4,99.85 535.9,99.69 536.4,99.57 536.9,99.67 537.4,99.29 537.9,99.30 538.4,99.35 538.9,99.23 539.4,99.14 539.9,98.98 540.4,98.85 540.9,98.72 541.4,98.57 541.9,98.46 542.4,98.28 542.9,98.03 543.4,97.86 543.9,97.37 544.4,97.25 544.9,96.94 545.4,96.92 545.9,96.53 546.4,96.36 546.9,96.08 547.4,95.75 547.9,95.47 548.4,95.31 548.9,95.07 549.4,94.70 549.9,94.62 550.4,94.23 550.9,94.04 551.4,93.77 551.9,93.60 552.4,93.17 552.9,93.17 553.4,92.89 553.9,92.66 554.4,92.47 554.9,92.21 555.4,91.85 555.9,91.74 556.4,91.53 556.9,91.44 557.4,91.42 557.9,91.39 558.4,91.06 558.9,90.99 559.4,90.99 559.9,90.96 560.4,90.88 560.9,90.77 561.4,90.83 561.9,90.83 562.4,90.83 562.9,91.14 563.4,91.12 563.9,91.48 564.4,91.74 564.9,92.11 565.4,92.67 565.9,93.20 566.4,93.95 566.9,94.74 567.4,95.53 567.9,96.05 568.4,96.93 568.9,97.70 569.4,98.41 569.9,99.27 570.4,99.81 570.9,100.41 571.4,100.83 571.9,101.38 572.4,101.49 572.9,101.93 573.4,102.17 573.9,102.37 574.4,102.52 574.9,102.78 575.4,102.73 575.9,102.93 576.4,102.94 576.9,103.08 577.4,103.16 577.9,103.04 578.4,103.14 578.9,103.26 579.4,103.32 579.9,103.25 580.4,103.44 580.9,103.53 581.4,103.50 581.9,103.56 582.4,103.50 582.9,103.73 583.4,103.83 583.9,103.95 584.4,103.79 584.9,103.96 585.4,103.81 585.9,103.93 586.4,103.94 586.9,103.84 587.4,103.94 587.9,104.02 588.4,104.04 588.9,104.02 589.4,104.07 589.9,104.16 590.4,104.18 590.9,103.92 591.4,104.06 591.9,104.10 592.4,103.91 592.9,104.13 593.4,104.20 593.9,103.99 594.4,103.91 594.9,104.05 595.4,104.20 595.9,104.32 596.4,104.13 596.9,104.10 597.4,104.03 597.9,104.16 598.4,104.04 598.9,104.11 599.4,104.14 599.9,103.97 600.4,103.74 600.9,103.67 601.4,103.53 601.9,103.30 602.4,102.81 602.9,102.69 603.4,102.40 603.9,102.04 604.4,101.66 604.9,101.38 605.4,100.99 605.9,100.76 606.4,100.08 606.9,99.48 607.4,98.96 607.9,98.49 608.4,97.87 608.9,97.50 609.4,96.99 609.9,96.44 610.4,96.29 610.9,96.16 611.4,96.47 611.9,96.89 612.4,97.16 612.9,97.45 613.4,97.56 613.9,97.77 614.4,97.56 614.9,97.48 615.4,97.58 615.9,97.35 616.4,97.51 616.9,97.27 617.4,97.33 617.9,97.29 618.4,97.30 618.9,97.33 619.4,97.30 619.9,97.13 620.4,97.14 620.9,97.21 621.4,97.27 621.9,97.18 622.4,97.16 622.9,97.06 623.4,97.25 623.9,97.22 624.4,97.13 624.9,97.18 625.4,97.32 625.9,97.16 626.4,97.15 626.9,97.34 627.4,97.36 627.9,97.81 628.4,98.24 628.9,98.65 629.4,99.16 629.9,99.62 630.4,100.08 630.9,100.53 631.4,101.14 631.9,101.70 632.4,102.18 632.9,102.66 633.4,102.94 633.9,103.53 634.4,103.71 634.9,103.95 635.4,104.24 635.9,104.32 636.4,104.50 636.9,104.77 637.4,104.57 637.9,105.00 638.4,105.01 638.9,104.89 639.4,104.91 639.9,105.03 640.4,104.84 640.9,104.90 641.4,104.80 641.9,104.69 642.4,104.59 642.9,104.49 643.4,104.36 643.9,104.31 644.4,104.25 644.9,103.91 645.4,104.07 645.9,103.99 646.4,103.53 646.9,103.58 647.4,103.31 647.9,103.15 648.4,102.87 648.9,102.55 649.4,102.44 649.9,102.14 650.4,101.89 650.9,101.48 651.4,101.24 651.9,100.97 652.4,100.36 652.9,100.07 653.4,99.42 653.9,99.12 654.4,98.68 654.9,97.83 655.4,97.35 655.9,96.81 656.4,96.08 656.9,95.63 657.4,94.95 657.9,94.22 658.4,93.58 658.9,92.73 659.4,92.12 659.9,91.20 660.4,90.33 660.9,89.56 661.4,88.72 661.9,88.08 662.4,87.37 662.9,86.78 663.4,86.07 663.9,85.26 664.4,84.74 664.9,84.13 665.4,83.58 665.9,83.27 666.4,82.91 666.9,82.62 667.4,82.40 667.9,82.23 668.4,81.90 668.9,81.78 669.4,81.71 669.9,81.64 670.4,81.51 670.9,81.46 671.4,81.46 671.9,81.95 672.4,82.26 672.9,82.83 673.4,83.69 673.9,84.35 674.4,85.53 674.9,87.72 675.4,90.30 675.9,92.84 676.4,94.83 676.9,97.03 677.4,99.06 677.9,101.06 678.4,102.92 678.9,104.37 679.4,105.16 679.9,105.99 680.4,106.46 680.9,106.96 681.4,107.33 681.9,107.76 682.4,108.10 682.9,108.23 683.4,108.33 683.9,108.78 684.4,108.81 684.9,108.90 685.4,109.06 685.9,108.98 686.4,109.09 686.9,109.13 687.4,109.29 687.9,109.61 688.4,109.57 688.9,109.46 689.4,109.71 689.9,109.76 690.4,109.88 690.9,109.79 691.4,109.92 691.9,109.91 692.4,110.06" fill="none" stroke="#ff0808" stroke-width="1.45" stroke-linejoin="round"/>
<polyline points="491.9,161.16 492.4,161.04 492.9,160.96 493.4,160.76 493.9,160.98 494.4,161.07 494.9,161.04 495.4,160.85 495.9,160.74 496.4,160.83 496.9,160.57 497.4,160.67 497.9,160.74 498.4,160.70 498.9,160.68 499.4,160.51 499.9,160.45 500.4,160.61 500.9,160.65 501.4,160.53 501.9,160.45 502.4,160.56 502.9,160.62 503.4,160.51 503.9,160.42 504.4,160.65 504.9,160.56 505.4,160.45 505.9,160.46 506.4,160.40 506.9,160.58 507.4,160.41 507.9,160.37 508.4,160.45 508.9,160.64 509.4,160.21 509.9,160.37 510.4,160.57 510.9,160.54 511.4,160.54 511.9,160.56 512.4,160.54 512.9,160.63 513.4,160.65 513.9,160.63 514.4,160.58 514.9,160.65 515.4,160.62 515.9,160.82 516.4,160.81 516.9,160.92 517.4,161.00 517.9,160.92 518.4,161.02 518.9,160.98 519.4,161.10 519.9,160.98 520.4,161.13 520.9,161.13 521.4,161.23 521.9,161.25 522.4,161.18 522.9,161.43 523.4,161.35 523.9,161.31 524.4,161.47 524.9,161.39 525.4,161.39 525.9,161.60 526.4,161.58 526.9,161.48 527.4,161.58 527.9,161.70 528.4,161.64 528.9,161.68 529.4,161.65 529.9,161.72 530.4,161.80 530.9,161.73 531.4,161.66 531.9,161.65 532.4,161.71 532.9,161.66 533.4,161.70 533.9,161.68 534.4,161.66 534.9,161.61 535.4,161.64 535.9,161.62 536.4,161.23 536.9,161.31 537.4,161.41 537.9,161.41 538.4,161.37 538.9,161.17 539.4,161.16 539.9,161.07 540.4,161.19 540.9,161.04 541.4,160.83 541.9,160.92 542.4,160.82 542.9,160.88 543.4,160.70 543.9,160.63 544.4,160.58 544.9,160.64 545.4,160.41 545.9,160.39 546.4,160.30 546.9,160.28 547.4,160.32 547.9,160.20 548.4,160.22 548.9,160.06 549.4,159.93 549.9,159.99 550.4,159.76 550.9,159.82 551.4,159.61 551.9,159.36 552.4,159.41 552.9,159.14 553.4,158.96 553.9,158.67 554.4,158.28 554.9,157.80 555.4,157.47 555.9,156.76 556.4,156.09 556.9,155.22 557.4,154.52 557.9,153.59 558.4,152.34 558.9,151.35 559.4,150.45 559.9,149.61 560.4,148.91 560.9,148.36 561.4,148.30 561.9,148.40 562.4,148.66 562.9,149.50 563.4,150.35 563.9,151.34 564.4,152.34 564.9,153.50 565.4,154.44 565.9,155.24 566.4,156.32 566.9,157.03 567.4,157.71 567.9,158.17 568.4,158.68 568.9,159.11 569.4,159.56 569.9,159.85 570.4,160.01 570.9,160.48 571.4,160.36 571.9,160.41 572.4,160.80 572.9,160.78 573.4,160.97 573.9,161.26 574.4,161.25 574.9,161.52 575.4,161.74 575.9,161.94 576.4,162.13 576.9,162.16 577.4,162.43 577.9,162.32 578.4,162.51 578.9,162.63 579.4,162.72 579.9,162.79 580.4,162.89 580.9,162.85 581.4,162.90 581.9,162.85 582.4,162.65 582.9,162.96 583.4,162.85 583.9,162.74 584.4,162.70 584.9,162.77 585.4,162.72 585.9,162.78 586.4,162.82 586.9,162.71 587.4,162.78 587.9,162.78 588.4,162.63 588.9,162.63 589.4,162.56 589.9,162.50 590.4,162.47 590.9,162.36 591.4,162.42 591.9,162.37 592.4,162.43 592.9,162.41 593.4,162.29 593.9,162.21 594.4,162.23 594.9,162.16 595.4,162.13 595.9,162.25 596.4,162.17 596.9,162.06 597.4,162.08 597.9,161.95 598.4,161.85 598.9,161.83 599.4,161.81 599.9,161.75 600.4,161.85 600.9,161.79 601.4,161.69 601.9,161.71 602.4,161.65 602.9,161.69 603.4,161.76 603.9,161.47 604.4,161.64 604.9,161.51 605.4,161.47 605.9,161.46 606.4,161.67 606.9,161.45 607.4,161.62 607.9,161.51 608.4,161.44 608.9,161.53 609.4,161.63 609.9,161.62 610.4,161.47 610.9,161.56 611.4,161.54 611.9,161.53 612.4,161.57 612.9,161.60 613.4,161.51 613.9,161.66 614.4,161.51 614.9,161.61 615.4,161.74 615.9,161.61 616.4,161.63 616.9,161.73 617.4,161.66 617.9,161.59 618.4,161.69 618.9,161.69 619.4,161.69 619.9,161.65 620.4,161.92 620.9,161.85 621.4,161.79 621.9,161.86 622.4,161.88 622.9,161.89 623.4,162.03 623.9,162.06 624.4,161.93 624.9,161.96 625.4,162.04 625.9,162.08 626.4,162.58 626.9,162.41 627.4,162.58 627.9,162.79 628.4,162.81 628.9,162.91 629.4,163.31 629.9,163.28 630.4,163.55 630.9,163.57 631.4,163.91 631.9,163.86 632.4,163.83 632.9,163.71 633.4,163.75 633.9,163.63 634.4,163.72 634.9,163.63 635.4,163.77 635.9,163.69 636.4,163.63 636.9,163.81 637.4,163.52 637.9,163.53 638.4,163.44 638.9,163.29 639.4,163.18 639.9,163.34 640.4,163.02 640.9,163.06 641.4,162.92 641.9,162.92 642.4,162.94 642.9,162.61 643.4,162.64 643.9,162.63 644.4,162.36 644.9,162.23 645.4,162.22 645.9,162.13 646.4,162.10 646.9,161.83 647.4,161.89 647.9,161.63 648.4,161.71 648.9,161.57 649.4,161.29 649.9,161.46 650.4,161.26 650.9,161.35 651.4,161.19 651.9,160.95 652.4,160.85 652.9,160.86 653.4,160.70 653.9,160.93 654.4,160.72 654.9,160.53 655.4,160.49 655.9,160.35 656.4,160.34 656.9,160.08 657.4,160.09 657.9,160.06 658.4,159.79 658.9,159.78 659.4,159.57 659.9,159.56 660.4,159.32 660.9,158.87 661.4,158.54 661.9,158.25 662.4,157.96 662.9,157.33 663.4,156.51 663.9,155.47 664.4,154.24 664.9,152.85 665.4,151.05 665.9,148.87 666.4,146.53 666.9,144.03 667.4,141.26 667.9,138.23 668.4,135.32 668.9,133.00 669.4,131.28 669.9,130.69 670.4,131.03 670.9,132.36 671.4,134.82 671.9,137.49 672.4,140.37 672.9,143.41 673.4,146.19 673.9,148.92 674.4,151.14 674.9,153.08 675.4,154.79 675.9,156.23 676.4,157.21 676.9,158.17 677.4,158.94 677.9,159.70 678.4,160.19 678.9,161.01 679.4,161.26 679.9,161.91 680.4,162.36 680.9,163.08 681.4,163.42 681.9,163.97 682.4,164.41 682.9,164.88 683.4,165.11 683.9,165.27 684.4,165.45 684.9,165.68 685.4,165.80 685.9,166.03 686.4,165.98 686.9,166.18 687.4,166.31 687.9,166.40 688.4,166.65 688.9,166.59 689.4,166.63 689.9,166.72 690.4,166.82 690.9,166.79 691.4,166.93 691.9,167.01 692.4,167.01" fill="none" stroke="#0808ff" stroke-width="1.45" stroke-linejoin="round"/>
<polyline points="491.9,194.04 492.4,194.17 492.9,194.11 493.4,194.06 493.9,194.26 494.4,194.05 494.9,194.11 495.4,194.26 495.9,194.09 496.4,194.18 496.9,194.13 497.4,194.28 497.9,194.22 498.4,194.13 498.9,194.16 499.4,194.32 499.9,194.23 500.4,194.35 500.9,194.14 501.4,194.34 501.9,194.18 502.4,194.25 502.9,194.26 503.4,194.26 503.9,194.19 504.4,194.30 504.9,194.34 505.4,194.37 505.9,194.43 506.4,194.25 506.9,194.38 507.4,194.30 507.9,194.39 508.4,194.40 508.9,194.36 509.4,194.40 509.9,194.38 510.4,194.38 510.9,194.58 511.4,194.34 511.9,194.37 512.4,194.38 512.9,194.48 513.4,194.43 513.9,194.46 514.4,194.58 514.9,194.42 515.4,194.42 515.9,194.67 516.4,194.36 516.9,194.45 517.4,194.30 517.9,194.42 518.4,194.53 518.9,194.65 519.4,194.44 519.9,194.43 520.4,194.52 520.9,194.55 521.4,194.51 521.9,194.50 522.4,194.69 522.9,194.59 523.4,194.64 523.9,194.48 524.4,194.56 524.9,194.45 525.4,194.63 525.9,194.58 526.4,194.59 526.9,194.64 527.4,194.48 527.9,194.50 528.4,194.67 528.9,194.59 529.4,194.72 529.9,194.62 530.4,194.53 530.9,194.58 531.4,194.59 531.9,194.67 532.4,194.65 532.9,194.67 533.4,194.59 533.9,194.65 534.4,194.80 534.9,194.78 535.4,194.62 535.9,194.67 536.4,194.64 536.9,194.73 537.4,194.68 537.9,194.64 538.4,194.72 538.9,194.61 539.4,194.69 539.9,194.77 540.4,194.78 540.9,194.74 541.4,194.66 541.9,194.79 542.4,194.83 542.9,194.78 543.4,194.73 543.9,194.66 544.4,194.66 544.9,194.68 545.4,194.60 545.9,194.59 546.4,194.58 546.9,194.76 547.4,194.56 547.9,194.59 548.4,194.48 548.9,194.46 549.4,194.62 549.9,194.47 550.4,194.42 550.9,194.42 551.4,194.46 551.9,194.38 552.4,194.18 552.9,194.15 553.4,194.06 553.9,193.92 554.4,193.64 554.9,193.54 555.4,193.08 555.9,192.49 556.4,192.33 556.9,191.64 557.4,190.82 557.9,190.04 558.4,189.26 558.9,188.06 559.4,186.96 559.9,185.76 560.4,184.83 560.9,183.60 561.4,182.78 561.9,182.11 562.4,181.65 562.9,181.65 563.4,182.09 563.9,182.77 564.4,183.88 564.9,185.04 565.4,186.29 565.9,187.17 566.4,188.38 566.9,189.47 567.4,190.57 567.9,191.20 568.4,191.94 568.9,192.45 569.4,192.90 569.9,193.37 570.4,193.67 570.9,194.03 571.4,194.01 571.9,194.26 572.4,194.38 572.9,194.51 573.4,194.68 573.9,194.79 574.4,194.70 574.9,194.71 575.4,194.79 575.9,194.93 576.4,194.83 576.9,195.21 577.4,194.96 577.9,195.13 578.4,195.13 578.9,195.26 579.4,195.16 579.9,195.12 580.4,195.27 580.9,195.17 581.4,195.18 581.9,195.44 582.4,195.41 582.9,195.39 583.4,195.42 583.9,195.35 584.4,195.44 584.9,195.47 585.4,195.33 585.9,195.44 586.4,195.63 586.9,195.55 587.4,195.50 587.9,195.48 588.4,195.36 588.9,195.50 589.4,195.55 589.9,195.58 590.4,195.49 590.9,195.60 591.4,195.39 591.9,195.57 592.4,195.34 592.9,195.30 593.4,195.46 593.9,195.52 594.4,195.36 594.9,195.55 595.4,195.36 595.9,195.27 596.4,195.31 596.9,195.27 597.4,195.31 597.9,195.06 598.4,195.19 598.9,195.10 599.4,195.09 599.9,195.13 600.4,195.13 600.9,195.08 601.4,194.94 601.9,195.04 602.4,195.05 602.9,194.90 603.4,194.93 603.9,194.87 604.4,194.94 604.9,194.85 605.4,194.78 605.9,194.72 606.4,194.80 606.9,194.81 607.4,194.68 607.9,194.89 608.4,194.82 608.9,194.81 609.4,194.77 609.9,194.77 610.4,194.89 610.9,194.93 611.4,194.83 611.9,194.85 612.4,194.71 612.9,194.90 613.4,195.02 613.9,195.00 614.4,195.00 614.9,194.85 615.4,195.06 615.9,194.90 616.4,195.11 616.9,195.11 617.4,195.25 617.9,195.14 618.4,195.38 618.9,195.23 619.4,195.28 619.9,195.33 620.4,195.44 620.9,195.39 621.4,195.67 621.9,195.65 622.4,195.66 622.9,195.65 623.4,195.63 623.9,195.62 624.4,195.78 624.9,195.79 625.4,195.73 625.9,195.80 626.4,195.68 626.9,195.84 627.4,196.01 627.9,195.86 628.4,195.96 628.9,196.16 629.4,195.89 629.9,196.09 630.4,196.11 630.9,196.11 631.4,196.13 631.9,196.09 632.4,196.26 632.9,196.23 633.4,196.21 633.9,196.35 634.4,196.40 634.9,196.37 635.4,196.44 635.9,196.30 636.4,196.27 636.9,196.47 637.4,196.44 637.9,196.44 638.4,196.42 638.9,196.37 639.4,196.44 639.9,196.47 640.4,196.41 640.9,196.35 641.4,196.40 641.9,196.42 642.4,196.10 642.9,196.13 643.4,196.26 643.9,196.19 644.4,196.08 644.9,195.97 645.4,196.04 645.9,195.80 646.4,195.93 646.9,195.76 647.4,195.71 647.9,195.68 648.4,195.50 648.9,195.52 649.4,195.45 649.9,195.45 650.4,195.23 650.9,195.36 651.4,195.32 651.9,195.30 652.4,195.13 652.9,194.98 653.4,194.89 653.9,194.81 654.4,194.83 654.9,194.79 655.4,194.63 655.9,194.59 656.4,194.52 656.9,194.37 657.4,194.53 657.9,194.36 658.4,194.43 658.9,194.16 659.4,194.21 659.9,194.03 660.4,193.97 660.9,193.95 661.4,193.67 661.9,193.56 662.4,193.09 662.9,192.77 663.4,192.58 663.9,192.03 664.4,191.48 664.9,190.40 665.4,189.45 665.9,187.82 666.4,185.97 666.9,183.72 667.4,181.07 667.9,178.12 668.4,174.71 668.9,171.28 669.4,167.98 669.9,164.94 670.4,163.23 670.9,162.83 671.4,163.88 671.9,166.49 672.4,169.71 672.9,173.31 673.4,176.79 673.9,180.34 674.4,183.49 674.9,185.98 675.4,188.26 675.9,190.07 676.4,191.55 676.9,192.63 677.4,193.49 677.9,194.26 678.4,194.92 678.9,195.25 679.4,195.72 679.9,196.13 680.4,196.26 680.9,196.53 681.4,196.81 681.9,196.93 682.4,197.05 682.9,197.27 683.4,197.36 683.9,197.52 684.4,197.83 684.9,197.95 685.4,198.05 685.9,198.10 686.4,198.27 686.9,198.30 687.4,198.44 687.9,198.69 688.4,198.57 688.9,198.68 689.4,198.90 689.9,199.04 690.4,199.05 690.9,199.28 691.4,199.23 691.9,199.52 692.4,199.33" fill="none" stroke="#ff0808" stroke-width="1.45" stroke-linejoin="round"/>
<polyline points="491.9,248.82 492.4,248.79 492.9,248.95 493.4,248.85 493.9,248.74 494.4,248.98 494.9,248.93 495.4,248.72 495.9,248.79 496.4,248.74 496.9,248.82 497.4,248.73 497.9,248.73 498.4,248.80 498.9,248.76 499.4,248.68 499.9,248.62 500.4,248.78 500.9,248.74 501.4,248.69 501.9,248.78 502.4,248.80 502.9,248.62 503.4,248.74 503.9,248.59 504.4,248.73 504.9,248.64 505.4,248.72 505.9,248.72 506.4,248.60 506.9,248.64 507.4,248.68 507.9,248.70 508.4,248.69 508.9,248.60 509.4,248.58 509.9,248.74 510.4,248.82 510.9,248.79 511.4,248.89 511.9,248.79 512.4,248.84 512.9,248.73 513.4,248.94 513.9,248.80 514.4,248.91 514.9,249.06 515.4,248.97 515.9,249.24 516.4,249.06 516.9,249.07 517.4,248.98 517.9,249.13 518.4,249.14 518.9,249.21 519.4,249.24 519.9,249.17 520.4,249.43 520.9,249.27 521.4,249.50 521.9,249.34 522.4,249.41 522.9,249.48 523.4,249.49 523.9,249.50 524.4,249.44 524.9,249.58 525.4,249.69 525.9,249.79 526.4,249.57 526.9,249.76 527.4,249.58 527.9,249.64 528.4,249.64 528.9,249.75 529.4,249.71 529.9,249.64 530.4,249.68 530.9,249.79 531.4,249.77 531.9,249.85 532.4,249.78 532.9,249.84 533.4,249.98 533.9,249.73 534.4,249.75 534.9,249.74 535.4,249.93 535.9,249.80 536.4,249.80 536.9,249.73 537.4,249.77 537.9,249.87 538.4,249.69 538.9,249.65 539.4,249.80 539.9,249.94 540.4,249.74 540.9,249.81 541.4,249.84 541.9,249.81 542.4,249.91 542.9,249.66 543.4,249.76 543.9,249.64 544.4,249.60 544.9,249.67 545.4,249.69 545.9,249.63 546.4,249.65 546.9,249.67 547.4,249.53 547.9,249.69 548.4,249.57 548.9,249.53 549.4,249.46 549.9,249.37 550.4,249.45 550.9,249.24 551.4,249.32 551.9,249.21 552.4,248.93 552.9,248.76 553.4,248.57 553.9,248.41 554.4,248.00 554.9,247.64 555.4,247.08 555.9,246.48 556.4,245.65 556.9,244.84 557.4,243.78 557.9,242.69 558.4,241.45 558.9,240.23 559.4,239.18 559.9,237.87 560.4,237.01 560.9,236.21 561.4,236.08 561.9,236.08 562.4,236.84 562.9,237.58 563.4,238.67 563.9,239.80 564.4,241.14 564.9,242.22 565.4,243.47 565.9,244.49 566.4,245.31 566.9,246.24 567.4,246.84 567.9,247.44 568.4,247.96 568.9,248.31 569.4,248.56 569.9,248.83 570.4,248.78 570.9,249.18 571.4,249.35 571.9,249.35 572.4,249.49 572.9,249.51 573.4,249.65 573.9,249.61 574.4,249.74 574.9,249.79 575.4,249.88 575.9,249.91 576.4,249.99 576.9,249.92 577.4,249.97 577.9,250.01 578.4,250.03 578.9,249.89 579.4,250.13 579.9,250.13 580.4,250.19 580.9,250.18 581.4,250.21 581.9,250.28 582.4,250.20 582.9,250.17 583.4,250.47 583.9,250.27 584.4,250.33 584.9,250.25 585.4,250.55 585.9,250.65 586.4,250.57 586.9,250.56 587.4,250.54 587.9,250.46 588.4,250.54 588.9,250.40 589.4,250.64 589.9,250.44 590.4,250.40 590.9,250.53 591.4,250.52 591.9,250.38 592.4,250.37 592.9,250.33 593.4,250.32 593.9,250.38 594.4,250.24 594.9,250.37 595.4,250.35 595.9,250.28 596.4,250.21 596.9,250.00 597.4,250.16 597.9,250.12 598.4,250.14 598.9,250.08 599.4,250.02 599.9,250.04 600.4,250.03 600.9,249.76 601.4,250.11 601.9,249.97 602.4,249.80 602.9,249.79 603.4,249.83 603.9,249.80 604.4,249.92 604.9,249.72 605.4,249.74 605.9,249.72 606.4,249.74 606.9,249.78 607.4,249.72 607.9,249.65 608.4,249.73 608.9,249.66 609.4,249.71 609.9,249.67 610.4,249.70 610.9,249.84 611.4,249.82 611.9,249.66 612.4,249.80 612.9,250.02 613.4,249.95 613.9,249.99 614.4,249.92 614.9,250.19 615.4,250.19 615.9,250.17 616.4,250.25 616.9,250.32 617.4,250.40 617.9,250.43 618.4,250.38 618.9,250.54 619.4,250.47 619.9,250.70 620.4,250.62 620.9,250.75 621.4,250.69 621.9,250.78 622.4,250.78 622.9,250.92 623.4,250.90 623.9,251.06 624.4,251.05 624.9,251.02 625.4,251.13 625.9,251.15 626.4,251.13 626.9,251.19 627.4,251.30 627.9,251.22 628.4,251.29 628.9,251.28 629.4,251.39 629.9,251.27 630.4,251.40 630.9,251.37 631.4,251.18 631.9,251.40 632.4,251.41 632.9,251.18 633.4,251.35 633.9,251.32 634.4,251.26 634.9,251.29 635.4,251.33 635.9,251.24 636.4,251.20 636.9,251.13 637.4,251.08 637.9,251.07 638.4,251.06 638.9,250.89 639.4,251.04 639.9,251.02 640.4,250.99 640.9,250.86 641.4,251.04 641.9,250.82 642.4,250.70 642.9,250.73 643.4,250.84 643.9,250.66 644.4,250.68 644.9,250.44 645.4,250.66 645.9,250.51 646.4,250.42 646.9,250.36 647.4,250.50 647.9,250.22 648.4,250.28 648.9,250.13 649.4,250.18 649.9,250.23 650.4,250.08 650.9,250.05 651.4,250.00 651.9,250.00 652.4,249.88 652.9,249.87 653.4,249.74 653.9,249.71 654.4,249.74 654.9,249.68 655.4,249.31 655.9,249.46 656.4,249.43 656.9,249.31 657.4,249.24 657.9,249.00 658.4,249.05 658.9,248.95 659.4,248.64 659.9,248.54 660.4,248.36 660.9,247.98 661.4,247.89 661.9,247.61 662.4,247.23 662.9,246.63 663.4,245.75 663.9,244.93 664.4,243.79 664.9,242.11 665.4,240.42 665.9,238.27 666.4,235.60 666.9,232.65 667.4,229.14 667.9,225.84 668.4,222.42 668.9,219.45 669.4,217.34 669.9,216.29 670.4,216.83 670.9,218.56 671.4,221.40 671.9,224.83 672.4,228.41 672.9,231.89 673.4,235.01 673.9,238.14 674.4,240.44 674.9,242.57 675.4,244.13 675.9,245.76 676.4,246.80 676.9,247.61 677.4,248.24 677.9,248.99 678.4,249.53 678.9,249.76 679.4,250.17 679.9,250.40 680.4,250.83 680.9,251.04 681.4,251.15 681.9,251.24 682.4,251.52 682.9,251.70 683.4,252.03 683.9,252.07 684.4,252.26 684.9,252.33 685.4,252.51 685.9,252.97 686.4,253.11 686.9,253.18 687.4,253.23 687.9,253.46 688.4,253.59 688.9,253.73 689.4,253.87 689.9,254.04 690.4,254.20 690.9,254.27 691.4,254.44 691.9,254.66 692.4,254.64" fill="none" stroke="#0808ff" stroke-width="1.45" stroke-linejoin="round"/>
<polyline points="491.9,277.46 492.4,277.38 492.9,277.42 493.4,277.36 493.9,277.35 494.4,277.32 494.9,277.41 495.4,277.40 495.9,277.34 496.4,277.47 496.9,277.31 497.4,277.34 497.9,277.36 498.4,277.47 498.9,277.46 499.4,277.51 499.9,277.42 500.4,277.38 500.9,277.60 501.4,277.40 501.9,277.50 502.4,277.59 502.9,277.61 503.4,277.44 503.9,277.38 504.4,277.51 504.9,277.56 505.4,277.47 505.9,277.40 506.4,277.50 506.9,277.38 507.4,277.61 507.9,277.72 508.4,277.52 508.9,277.62 509.4,277.52 509.9,277.51 510.4,277.58 510.9,277.58 511.4,277.67 511.9,277.59 512.4,277.74 512.9,277.64 513.4,277.57 513.9,277.72 514.4,277.67 514.9,277.58 515.4,277.59 515.9,277.54 516.4,277.81 516.9,277.74 517.4,277.79 517.9,277.76 518.4,277.62 518.9,277.76 519.4,277.74 519.9,277.68 520.4,277.84 520.9,277.91 521.4,277.89 521.9,277.81 522.4,277.78 522.9,277.62 523.4,277.83 523.9,277.88 524.4,277.91 524.9,277.93 525.4,277.94 525.9,277.89 526.4,277.85 526.9,277.89 527.4,277.96 527.9,277.97 528.4,277.82 528.9,277.83 529.4,277.92 529.9,277.94 530.4,277.94 530.9,278.02 531.4,277.90 531.9,277.84 532.4,278.02 532.9,278.04 533.4,277.88 533.9,277.90 534.4,278.04 534.9,277.95 535.4,277.98 535.9,277.83 536.4,277.79 536.9,277.86 537.4,277.95 537.9,277.93 538.4,278.08 538.9,278.02 539.4,277.92 539.9,278.08 540.4,277.81 540.9,277.99 541.4,278.02 541.9,277.95 542.4,277.77 542.9,278.05 543.4,278.07 543.9,277.99 544.4,278.02 544.9,277.93 545.4,278.03 545.9,277.99 546.4,278.06 546.9,278.07 547.4,277.91 547.9,277.99 548.4,277.99 548.9,277.95 549.4,277.69 549.9,277.88 550.4,277.81 550.9,277.85 551.4,277.87 551.9,277.63 552.4,277.54 552.9,277.69 553.4,277.40 553.9,277.12 554.4,276.94 554.9,276.70 555.4,276.19 555.9,275.65 556.4,275.11 556.9,274.45 557.4,273.57 557.9,272.50 558.4,271.54 558.9,270.21 559.4,269.25 559.9,267.97 560.4,266.91 560.9,265.97 561.4,265.20 561.9,264.89 562.4,264.93 562.9,265.43 563.4,266.21 563.9,267.22 564.4,268.22 564.9,269.68 565.4,270.97 565.9,272.05 566.4,273.03 566.9,274.06 567.4,274.98 567.9,275.59 568.4,276.24 568.9,276.74 569.4,277.10 569.9,277.50 570.4,277.75 570.9,277.93 571.4,278.08 571.9,278.24 572.4,278.39 572.9,278.37 573.4,278.37 573.9,278.47 574.4,278.55 574.9,278.57 575.4,278.62 575.9,278.57 576.4,278.56 576.9,278.68 577.4,278.78 577.9,278.75 578.4,278.71 578.9,278.79 579.4,278.85 579.9,278.74 580.4,278.67 580.9,278.73 581.4,278.89 581.9,278.91 582.4,278.81 582.9,278.83 583.4,278.73 583.9,278.84 584.4,278.86 584.9,278.75 585.4,278.77 585.9,278.83 586.4,278.87 586.9,278.80 587.4,278.73 587.9,278.84 588.4,278.73 588.9,278.88 589.4,278.79 589.9,278.95 590.4,279.02 590.9,278.86 591.4,278.93 591.9,278.95 592.4,278.76 592.9,278.89 593.4,279.02 593.9,279.00 594.4,278.96 594.9,278.91 595.4,278.88 595.9,279.01 596.4,278.86 596.9,278.99 597.4,279.06 597.9,279.04 598.4,278.97 598.9,278.84 599.4,278.96 599.9,279.07 600.4,279.03 600.9,279.09 601.4,279.06 601.9,278.98 602.4,279.00 602.9,279.00 603.4,278.99 603.9,279.13 604.4,279.02 604.9,279.17 605.4,279.07 605.9,278.99 606.4,279.21 606.9,279.12 607.4,279.17 607.9,279.21 608.4,279.23 608.9,279.21 609.4,279.15 609.9,279.26 610.4,279.33 610.9,279.34 611.4,279.51 611.9,279.33 612.4,279.33 612.9,279.35 613.4,279.29 613.9,279.34 614.4,279.29 614.9,279.37 615.4,279.36 615.9,279.54 616.4,279.50 616.9,279.44 617.4,279.45 617.9,279.50 618.4,279.49 618.9,279.50 619.4,279.56 619.9,279.56 620.4,279.52 620.9,279.63 621.4,279.44 621.9,279.56 622.4,279.56 622.9,279.58 623.4,279.68 623.9,279.60 624.4,279.63 624.9,279.60 625.4,279.59 625.9,279.65 626.4,279.72 626.9,279.73 627.4,279.77 627.9,279.58 628.4,279.72 628.9,279.70 629.4,279.57 629.9,279.70 630.4,279.66 630.9,279.75 631.4,279.64 631.9,279.68 632.4,279.70 632.9,279.78 633.4,279.67 633.9,279.73 634.4,279.64 634.9,279.52 635.4,279.85 635.9,279.80 636.4,279.69 636.9,279.65 637.4,279.70 637.9,279.70 638.4,279.76 638.9,279.79 639.4,279.59 639.9,279.65 640.4,279.63 640.9,279.69 641.4,279.58 641.9,279.56 642.4,279.51 642.9,279.59 643.4,279.49 643.9,279.51 644.4,279.41 644.9,279.69 645.4,279.39 645.9,279.36 646.4,279.44 646.9,279.38 647.4,279.35 647.9,279.31 648.4,279.19 648.9,279.18 649.4,279.08 649.9,279.16 650.4,279.19 650.9,278.97 651.4,278.98 651.9,278.94 652.4,278.99 652.9,278.80 653.4,278.64 653.9,278.87 654.4,278.58 654.9,278.71 655.4,278.60 655.9,278.43 656.4,278.39 656.9,278.32 657.4,278.22 657.9,278.27 658.4,277.95 658.9,278.14 659.4,277.91 659.9,277.86 660.4,277.51 660.9,277.40 661.4,277.10 661.9,277.13 662.4,276.78 662.9,276.51 663.4,275.75 663.9,275.19 664.4,274.34 664.9,273.14 665.4,271.71 665.9,269.78 666.4,267.47 666.9,264.72 667.4,261.63 667.9,258.10 668.4,254.05 668.9,250.36 669.4,246.82 669.9,244.35 670.4,243.14 670.9,243.88 671.4,245.84 671.9,249.26 672.4,253.20 672.9,257.16 673.4,261.12 673.9,264.50 674.4,267.52 674.9,270.22 675.4,272.34 675.9,273.94 676.4,275.51 676.9,276.57 677.4,277.52 677.9,278.13 678.4,278.69 678.9,279.06 679.4,279.67 679.9,279.93 680.4,279.99 680.9,280.23 681.4,280.63 681.9,280.61 682.4,280.78 682.9,281.07 683.4,281.14 683.9,281.35 684.4,281.18 684.9,281.42 685.4,281.74 685.9,281.77 686.4,281.75 686.9,281.84 687.4,282.14 687.9,282.04 688.4,282.26 688.9,282.35 689.4,282.46 689.9,282.35 690.4,282.50 690.9,282.54 691.4,282.73 691.9,282.68 692.4,282.96" fill="none" stroke="#ff0808" stroke-width="1.45" stroke-linejoin="round"/>
<path d="M491.40 293.4v-3.8 M491.40 15.4v3.8 M496.84 293.4v-2.0 M496.84 15.4v1.9 M502.29 293.4v-2.0 M502.29 15.4v1.9 M507.73 293.4v-2.0 M507.73 15.4v1.9 M513.17 293.4v-2.0 M513.17 15.4v1.9 M518.62 293.4v-3.8 M518.62 15.4v3.8 M524.06 293.4v-2.0 M524.06 15.4v1.9 M529.50 293.4v-2.0 M529.50 15.4v1.9 M534.95 293.4v-2.0 M534.95 15.4v1.9 M540.39 293.4v-2.0 M540.39 15.4v1.9 M545.83 293.4v-3.8 M545.83 15.4v3.8 M551.28 293.4v-2.0 M551.28 15.4v1.9 M556.72 293.4v-2.0 M556.72 15.4v1.9 M562.16 293.4v-2.0 M562.16 15.4v1.9 M567.61 293.4v-2.0 M567.61 15.4v1.9 M573.05 293.4v-3.8 M573.05 15.4v3.8 M578.49 293.4v-2.0 M578.49 15.4v1.9 M583.94 293.4v-2.0 M583.94 15.4v1.9 M589.38 293.4v-2.0 M589.38 15.4v1.9 M594.82 293.4v-2.0 M594.82 15.4v1.9 M600.26 293.4v-3.8 M600.26 15.4v3.8 M605.71 293.4v-2.0 M605.71 15.4v1.9 M611.15 293.4v-2.0 M611.15 15.4v1.9 M616.59 293.4v-2.0 M616.59 15.4v1.9 M622.04 293.4v-2.0 M622.04 15.4v1.9 M627.48 293.4v-3.8 M627.48 15.4v3.8 M632.92 293.4v-2.0 M632.92 15.4v1.9 M638.37 293.4v-2.0 M638.37 15.4v1.9 M643.81 293.4v-2.0 M643.81 15.4v1.9 M649.25 293.4v-2.0 M649.25 15.4v1.9 M654.70 293.4v-3.8 M654.70 15.4v3.8 M660.14 293.4v-2.0 M660.14 15.4v1.9 M665.58 293.4v-2.0 M665.58 15.4v1.9 M671.03 293.4v-2.0 M671.03 15.4v1.9 M676.47 293.4v-2.0 M676.47 15.4v1.9 M681.91 293.4v-3.8 M681.91 15.4v3.8 M687.36 293.4v-2.0 M687.36 15.4v1.9 M692.80 293.4v-2.0 M692.80 15.4v1.9 M491.4 19.41h2.3 M692.80 19.41h-2.3 M491.4 23.98h2.3 M692.80 23.98h-2.3 M491.4 28.56h2.3 M692.80 28.56h-2.3 M491.4 33.13h2.3 M692.80 33.13h-2.3 M491.4 37.70h3.8 M692.80 37.70h-3.8 M491.4 42.27h2.3 M692.80 42.27h-2.3 M491.4 46.84h2.3 M692.80 46.84h-2.3 M491.4 51.42h2.3 M692.80 51.42h-2.3 M491.4 55.99h2.3 M692.80 55.99h-2.3 M491.4 60.56h3.8 M692.80 60.56h-3.8 M491.4 65.13h2.3 M692.80 65.13h-2.3 M491.4 69.70h2.3 M692.80 69.70h-2.3 M491.4 74.28h2.3 M692.80 74.28h-2.3 M491.4 78.85h2.3 M692.80 78.85h-2.3 M491.4 83.42h3.8 M692.80 83.42h-3.8 M491.4 87.99h2.3 M692.80 87.99h-2.3 M491.4 92.56h2.3 M692.80 92.56h-2.3 M491.4 97.14h2.3 M692.80 97.14h-2.3 M491.4 101.71h2.3 M692.80 101.71h-2.3 M491.4 106.28h3.8 M692.80 106.28h-3.8 M491.4 110.85h2.3 M692.80 110.85h-2.3 M491.4 115.42h2.3 M692.80 115.42h-2.3 M491.4 120.00h2.3 M692.80 120.00h-2.3 M491.4 124.57h2.3 M692.80 124.57h-2.3 M491.4 129.14h3.8 M692.80 129.14h-3.8 M491.4 133.71h2.3 M692.80 133.71h-2.3 M491.4 138.28h2.3 M692.80 138.28h-2.3 M491.4 142.86h2.3 M692.80 142.86h-2.3 M491.4 147.43h2.3 M692.80 147.43h-2.3 M491.4 152.00h3.8 M692.80 152.00h-3.8 M491.4 156.57h2.3 M692.80 156.57h-2.3 M491.4 161.14h2.3 M692.80 161.14h-2.3 M491.4 165.72h2.3 M692.80 165.72h-2.3 M491.4 170.29h2.3 M692.80 170.29h-2.3 M491.4 174.86h3.8 M692.80 174.86h-3.8 M491.4 179.43h2.3 M692.80 179.43h-2.3 M491.4 184.00h2.3 M692.80 184.00h-2.3 M491.4 188.58h2.3 M692.80 188.58h-2.3 M491.4 193.15h2.3 M692.80 193.15h-2.3 M491.4 197.72h3.8 M692.80 197.72h-3.8 M491.4 202.29h2.3 M692.80 202.29h-2.3 M491.4 206.86h2.3 M692.80 206.86h-2.3 M491.4 211.44h2.3 M692.80 211.44h-2.3 M491.4 216.01h2.3 M692.80 216.01h-2.3 M491.4 220.58h3.8 M692.80 220.58h-3.8 M491.4 225.15h2.3 M692.80 225.15h-2.3 M491.4 229.72h2.3 M692.80 229.72h-2.3 M491.4 234.30h2.3 M692.80 234.30h-2.3 M491.4 238.87h2.3 M692.80 238.87h-2.3 M491.4 243.44h3.8 M692.80 243.44h-3.8 M491.4 248.01h2.3 M692.80 248.01h-2.3 M491.4 252.58h2.3 M692.80 252.58h-2.3 M491.4 257.16h2.3 M692.80 257.16h-2.3 M491.4 261.73h2.3 M692.80 261.73h-2.3 M491.4 266.30h3.8 M692.80 266.30h-3.8 M491.4 270.87h2.3 M692.80 270.87h-2.3 M491.4 275.44h2.3 M692.80 275.44h-2.3 M491.4 280.02h2.3 M692.80 280.02h-2.3 M491.4 284.59h2.3 M692.80 284.59h-2.3 M491.4 289.16h3.8 M692.80 289.16h-3.8" stroke="#111" stroke-width="0.9" fill="none"/>
<rect x="491.4" y="15.4" width="201.4" height="278.0" fill="none" stroke="#111" stroke-width="1.45"/>
<line x1="490.7" y1="293.54999999999995" x2="693.50" y2="293.54999999999995" stroke="#111" stroke-width="1.8"/>
<text x="491.4" y="304.3" font-size="8.2" font-weight="normal" text-anchor="middle" fill="#333" >965</text>
<text x="518.6" y="304.3" font-size="8.2" font-weight="normal" text-anchor="middle" fill="#333" >960</text>
<text x="545.8" y="304.3" font-size="8.2" font-weight="normal" text-anchor="middle" fill="#333" >955</text>
<text x="573.0" y="304.3" font-size="8.2" font-weight="normal" text-anchor="middle" fill="#333" >950</text>
<text x="600.3" y="304.3" font-size="8.2" font-weight="normal" text-anchor="middle" fill="#333" >945</text>
<text x="627.5" y="304.3" font-size="8.2" font-weight="normal" text-anchor="middle" fill="#333" >940</text>
<text x="654.7" y="304.3" font-size="8.2" font-weight="normal" text-anchor="middle" fill="#333" >935</text>
<text x="681.9" y="304.3" font-size="8.2" font-weight="normal" text-anchor="middle" fill="#333" >930</text>
<text x="543.6" y="320.5" font-size="9.7" font-weight="bold" fill="#1a1a1a" textLength="97.0" lengthAdjust="spacingAndGlyphs">Binding Energy [eV]</text>
<text x="492.7" y="7.8" font-size="10.9" font-weight="bold" text-anchor="start" fill="#1a1a1a" >(c) HE</text>
<text transform="translate(474.8,146.8) rotate(-90)" font-size="10.3" font-weight="bold" text-anchor="middle" fill="#1a1a1a">Intensity [a.u.]</text>
<text x="495.8" y="27.0" font-size="8.9" font-weight="bold" text-anchor="start" fill="#222" >Surface</text>
<text x="495.6" y="128.7" font-size="9.0" font-weight="bold" text-anchor="start" fill="#222" >70 nm</text>
<text x="495.9" y="216.6" font-size="9.0" font-weight="bold" text-anchor="start" fill="#222" >140 nm</text>
<rect x="131.6" y="19.6" width="88.6" height="16.6" fill="#fff" stroke="#444" stroke-width="0.7"/>
<line x1="132.29999999999998" y1="23.9" x2="147.5" y2="23.9" stroke="#0808ff" stroke-width="1.5"/>
<line x1="132.29999999999998" y1="31.9" x2="147.5" y2="31.9" stroke="#ff0808" stroke-width="1.5"/>
<text x="149.1" y="25.9" font-size="6.5" font-weight="normal" text-anchor="start" fill="#333" >Before thermal oxidation</text>
<text x="149.1" y="34.1" font-size="6.5" font-weight="normal" text-anchor="start" fill="#333" >After thermal oxidation</text>
<rect x="366.8" y="19.6" width="88.2" height="16.6" fill="#fff" stroke="#444" stroke-width="0.7"/>
<line x1="367.5" y1="23.9" x2="382.7" y2="23.9" stroke="#0808ff" stroke-width="1.5"/>
<line x1="367.5" y1="31.9" x2="382.7" y2="31.9" stroke="#ff0808" stroke-width="1.5"/>
<text x="384.3" y="25.9" font-size="6.5" font-weight="normal" text-anchor="start" fill="#333" >Before thermal oxidation</text>
<text x="384.3" y="34.1" font-size="6.5" font-weight="normal" text-anchor="start" fill="#333" >After thermal oxidation</text>
<rect x="599.0" y="19.6" width="89.3" height="16.6" fill="#fff" stroke="#444" stroke-width="0.7"/>
<line x1="599.7" y1="23.9" x2="614.9" y2="23.9" stroke="#0808ff" stroke-width="1.5"/>
<line x1="599.7" y1="31.9" x2="614.9" y2="31.9" stroke="#ff0808" stroke-width="1.5"/>
<text x="616.5" y="25.9" font-size="6.5" font-weight="normal" text-anchor="start" fill="#333" >Before thermal oxidation</text>
<text x="616.5" y="34.1" font-size="6.5" font-weight="normal" text-anchor="start" fill="#333" >After thermal oxidation</text>
<text x="79.0" y="56.3" font-size="7.2" font-weight="bold" fill="#222" textLength="17.7" lengthAdjust="spacingAndGlyphs">952.3</text>
<text x="134.9" y="47.9" font-size="8.6" font-weight="bold" fill="#222" textLength="13.9" lengthAdjust="spacingAndGlyphs">Cu<tspan dy="-3.3" font-size="5.6">0</tspan></text>
<text x="203.8" y="44.6" font-size="7.3" font-weight="bold" fill="#222" textLength="18.1" lengthAdjust="spacingAndGlyphs">932.5</text>
<line x1="125.3" y1="46.4" x2="107.0" y2="52.4" stroke="#333" stroke-width="0.6"/><polygon points="104.0,53.4 106.6,51.2 107.4,53.6" fill="#333"/>
<line x1="153.2" y1="45.5" x2="196.6" y2="38.8" stroke="#333" stroke-width="0.6"/><polygon points="199.8,38.3 196.8,40.1 196.4,37.5" fill="#333"/>
<text x="78.1" y="89.5" font-size="7.2" font-weight="bold" fill="#222" textLength="18.6" lengthAdjust="spacingAndGlyphs">953.7</text>
<text x="139.0" y="86.2" font-size="8.6" font-weight="bold" fill="#222" textLength="16.1" lengthAdjust="spacingAndGlyphs">Cu<tspan dy="-3.4" font-size="5.4">2+</tspan></text>
<line x1="131.6" y1="82.7" x2="108.0" y2="86.5" stroke="#333" stroke-width="0.6"/><polygon points="104.8,87.0 107.8,85.2 108.2,87.8" fill="#333"/>
<line x1="160.8" y1="83.3" x2="173.4" y2="85.1" stroke="#333" stroke-width="0.6"/><polygon points="176.6,85.6 173.2,86.4 173.6,83.9" fill="#333"/>
<text x="184.5" y="86.7" font-size="7.2" font-weight="bold" fill="#222" textLength="19.0" lengthAdjust="spacingAndGlyphs">933.7</text>
<text x="46.4" y="115.4" font-size="7.3" font-weight="bold" fill="#222" textLength="68.8" lengthAdjust="spacingAndGlyphs">Strong Cu<tspan dy="-2.9" font-size="4.9">2+</tspan><tspan dy="2.9"> satellite</tspan></text>
<line x1="47.7" y1="107.1" x2="41.3" y2="97.3" stroke="#333" stroke-width="0.6"/><polygon points="39.5,94.6 42.3,96.6 40.2,98.0" fill="#333"/>
<line x1="123.8" y1="112.7" x2="143.3" y2="102.8" stroke="#333" stroke-width="0.6"/><polygon points="146.2,101.4 143.9,104.0 142.8,101.7" fill="#333"/>
<text x="312.4" y="85.6" font-size="7.2" font-weight="bold" fill="#222" textLength="17.6" lengthAdjust="spacingAndGlyphs">953.7</text>
<text x="371.7" y="78.6" font-size="8.6" font-weight="bold" fill="#222" textLength="17.1" lengthAdjust="spacingAndGlyphs">Cu<tspan dy="-3.4" font-size="5.4">2+</tspan></text>
<line x1="369.2" y1="77.6" x2="342.3" y2="81.9" stroke="#333" stroke-width="0.6"/><polygon points="339.1,82.4 342.1,80.6 342.5,83.2" fill="#333"/>
<line x1="394.8" y1="76.1" x2="406.8" y2="77.6" stroke="#333" stroke-width="0.6"/><polygon points="410.0,78.0 406.7,78.9 407.0,76.3" fill="#333"/>
<text x="417.6" y="79.0" font-size="7.2" font-weight="bold" fill="#222" textLength="18.0" lengthAdjust="spacingAndGlyphs">933.7</text>
<text x="284.8" y="112.7" font-size="7.3" font-weight="bold" fill="#222" textLength="67.0" lengthAdjust="spacingAndGlyphs">Strong Cu<tspan dy="-2.9" font-size="4.9">2+</tspan><tspan dy="2.9">satellite</tspan></text>
<line x1="284.5" y1="106.0" x2="276.0" y2="95.7" stroke="#333" stroke-width="0.6"/><polygon points="274.0,93.2 277.0,94.8 275.0,96.5" fill="#333"/>
<line x1="354.0" y1="108.3" x2="381.9" y2="99.7" stroke="#333" stroke-width="0.6"/><polygon points="385.0,98.8 382.3,101.0 381.6,98.5" fill="#333"/>
<text x="292.1" y="175.5" font-size="7.3" font-weight="bold" fill="#222" textLength="68.1" lengthAdjust="spacingAndGlyphs">Strong Cu<tspan dy="-2.9" font-size="4.9">2+</tspan><tspan dy="2.9"> satellite</tspan></text>
<line x1="292.1" y1="177.7" x2="277.8" y2="184.4" stroke="#333" stroke-width="0.6"/><polygon points="274.9,185.8 277.2,183.3 278.3,185.6" fill="#333"/>
<line x1="362.7" y1="176.8" x2="379.3" y2="186.0" stroke="#333" stroke-width="0.6"/><polygon points="382.1,187.5 378.7,187.1 379.9,184.8" fill="#333"/>
<text x="295.9" y="257.6" font-size="7.3" font-weight="bold" fill="#222" textLength="67.7" lengthAdjust="spacingAndGlyphs">Strong Cu<tspan dy="-2.9" font-size="4.9">2+</tspan><tspan dy="2.9"> satellite</tspan></text>
<line x1="293.8" y1="262.7" x2="279.4" y2="270.4" stroke="#333" stroke-width="0.6"/><polygon points="276.6,271.9 278.8,269.2 280.0,271.5" fill="#333"/>
<line x1="359.3" y1="263.9" x2="377.9" y2="271.8" stroke="#333" stroke-width="0.6"/><polygon points="380.8,273.0 377.3,272.9 378.4,270.6" fill="#333"/>
<text x="524.8" y="45.1" font-size="7.6" font-weight="bold" fill="#222" textLength="69.0" lengthAdjust="spacingAndGlyphs">Strong&#160; Cu<tspan dy="-2.9" font-size="4.9">2+</tspan><tspan dy="2.9">satellite</tspan></text>
<line x1="527.2" y1="46.7" x2="511.8" y2="56.5" stroke="#333" stroke-width="0.6"/><polygon points="509.1,58.2 511.1,55.4 512.5,57.6" fill="#333"/>
<line x1="590.8" y1="46.1" x2="614.6" y2="60.0" stroke="#333" stroke-width="0.6"/><polygon points="617.4,61.6 614.0,61.1 615.3,58.9" fill="#333"/>
<text x="546.0" y="85.4" font-size="7.2" font-weight="bold" fill="#222" textLength="18.2" lengthAdjust="spacingAndGlyphs">953.7</text>
<text x="614.0" y="78.4" font-size="8.6" font-weight="bold" fill="#222" textLength="17.3" lengthAdjust="spacingAndGlyphs">Cu<tspan dy="-3.4" font-size="5.4">2+</tspan></text>
<line x1="606.9" y1="79.0" x2="579.5" y2="82.9" stroke="#333" stroke-width="0.6"/><polygon points="576.3,83.4 579.3,81.7 579.7,84.2" fill="#333"/>
<line x1="632.6" y1="79.2" x2="643.7" y2="81.0" stroke="#333" stroke-width="0.6"/><polygon points="646.9,81.5 643.5,82.3 643.9,79.7" fill="#333"/>
<text x="651.7" y="80.5" font-size="7.2" font-weight="bold" fill="#222" textLength="18.3" lengthAdjust="spacingAndGlyphs">933.7</text>
<text x="515.0" y="113.1" font-size="7.3" font-weight="bold" fill="#222" textLength="68.9" lengthAdjust="spacingAndGlyphs">Strong Cu<tspan dy="-2.9" font-size="4.9">2+</tspan><tspan dy="2.9"> satellite</tspan></text>
<line x1="517.5" y1="105.1" x2="510.8" y2="96.3" stroke="#333" stroke-width="0.6"/><polygon points="508.9,93.8 511.9,95.6 509.8,97.1" fill="#333"/>
<line x1="589.9" y1="111.9" x2="613.6" y2="100.9" stroke="#333" stroke-width="0.6"/><polygon points="616.5,99.5 614.1,102.0 613.1,99.7" fill="#333"/>
<rect x="258.0" y="349.7" width="220.39999999999998" height="177.09999999999997" fill="#fff"/>
<path d="M262.60 349.7V437.6M262.60 441.4V526.8 M295.80 349.7V437.6M295.80 441.4V526.8 M329.00 349.7V437.6M329.00 441.4V526.8 M362.20 349.7V437.6M362.20 441.4V526.8 M395.40 349.7V437.6M395.40 441.4V526.8 M428.60 349.7V437.6M428.60 441.4V526.8 M461.80 349.7V437.6M461.80 441.4V526.8 M258.0 422.00H478.4 M258.0 403.95H478.4 M258.0 385.90H478.4 M258.0 367.85H478.4 M258.0 513.83H478.4 M258.0 503.46H478.4 M258.0 493.09H478.4 M258.0 482.72H478.4 M258.0 472.35H478.4 M258.0 461.98H478.4 M258.0 451.61H478.4" stroke="#000" stroke-opacity="0.13" stroke-width="0.8" fill="none"/>
<line x1="262.60" y1="522.13" x2="279.58" y2="441.40" stroke="#000" stroke-width="1.3"/><line x1="280.38" y1="437.60" x2="295.80" y2="364.30" stroke="#000" stroke-width="1.3"/>
<line x1="262.60" y1="522.13" x2="289.91" y2="441.40" stroke="#ff0000" stroke-width="1.3"/><line x1="291.20" y1="437.60" x2="295.80" y2="424.00" stroke="#ff0000" stroke-width="1.3"/>
<polyline points="262.60,522.10 295.80,518.30 329.00,513.90 362.20,503.40 395.40,501.90 428.60,495.70 461.80,479.00" fill="none" stroke="#0000ff" stroke-width="1.3"/>
<path d="M295.80 515.8V520.8M293.70 515.8h4.2M293.70 520.8h4.2 M329.00 507.9V519.5M326.90 507.9h4.2M326.90 519.5h4.2 M362.20 496.3V510.6M360.10 496.3h4.2M360.10 510.6h4.2 M395.40 493.4V510.6M393.30 493.4h4.2M393.30 510.6h4.2 M428.60 483.0V508.3M426.50 483.0h4.2M426.50 508.3h4.2 M461.80 454.9V503.4M459.70 454.9h4.2M459.70 503.4h4.2 M295.80 360.0V369.4M293.60 360.0h4.4M293.60 369.4h4.4 M295.80 418.5V428.9M293.60 418.5h4.4M293.60 428.9h4.4" stroke="#111" stroke-width="1.15" fill="none"/>
<rect x="260.80" y="520.30" width="3.6" height="3.6" fill="#0000ff"/>
<rect x="294.00" y="516.50" width="3.6" height="3.6" fill="#0000ff"/>
<rect x="327.20" y="512.10" width="3.6" height="3.6" fill="#0000ff"/>
<rect x="360.40" y="501.60" width="3.6" height="3.6" fill="#0000ff"/>
<rect x="393.60" y="500.10" width="3.6" height="3.6" fill="#0000ff"/>
<rect x="426.80" y="493.90" width="3.6" height="3.6" fill="#0000ff"/>
<rect x="460.00" y="477.20" width="3.6" height="3.6" fill="#0000ff"/>
<circle cx="262.60" cy="522.13" r="2.0" fill="#111"/>
<circle cx="295.80" cy="424.0" r="2.1" fill="#ff0000"/>
<polygon points="295.80,361.6 293.40,365.8 298.20,365.8" fill="#000"/>
<rect x="255.0" y="437.6" width="6" height="3.7999999999999545" fill="#fff"/>
<rect x="475.4" y="437.6" width="6" height="3.7999999999999545" fill="#fff"/>
<path d="M258.0 437.6V349.7H478.4V437.6M258.0 441.4V526.8H478.4V441.4" fill="none" stroke="#111" stroke-width="1.6"/>
<path d="M254.4 439.3L260.5 436.4M254.4 442.3L260.5 439.5" stroke="#111" stroke-width="1.3" fill="none"/>
<path d="M474.79999999999995 439.3L480.9 436.4M474.79999999999995 442.3L480.9 439.5" stroke="#111" stroke-width="1.3" fill="none"/>
<path d="M262.60 526.8v-3.2M262.60 349.7v3.2 M279.20 526.8v-1.8M279.20 349.7v1.8 M295.80 526.8v-3.2M295.80 349.7v3.2 M312.40 526.8v-1.8M312.40 349.7v1.8 M329.00 526.8v-3.2M329.00 349.7v3.2 M345.60 526.8v-1.8M345.60 349.7v1.8 M362.20 526.8v-3.2M362.20 349.7v3.2 M378.80 526.8v-1.8M378.80 349.7v1.8 M395.40 526.8v-3.2M395.40 349.7v3.2 M412.00 526.8v-1.8M412.00 349.7v1.8 M428.60 526.8v-3.2M428.60 349.7v3.2 M445.20 526.8v-1.8M445.20 349.7v1.8 M461.80 526.8v-3.2M461.80 349.7v3.2 M258.0 349.80h3.2M478.4 349.80h-3.2 M258.0 353.41h1.7M478.4 353.41h-1.7 M258.0 357.02h1.7M478.4 357.02h-1.7 M258.0 360.63h1.7M478.4 360.63h-1.7 M258.0 364.24h1.7M478.4 364.24h-1.7 M258.0 367.85h3.2M478.4 367.85h-3.2 M258.0 371.46h1.7M478.4 371.46h-1.7 M258.0 375.07h1.7M478.4 375.07h-1.7 M258.0 378.68h1.7M478.4 378.68h-1.7 M258.0 382.29h1.7M478.4 382.29h-1.7 M258.0 385.90h3.2M478.4 385.90h-3.2 M258.0 389.51h1.7M478.4 389.51h-1.7 M258.0 393.12h1.7M478.4 393.12h-1.7 M258.0 396.73h1.7M478.4 396.73h-1.7 M258.0 400.34h1.7M478.4 400.34h-1.7 M258.0 403.95h3.2M478.4 403.95h-3.2 M258.0 407.56h1.7M478.4 407.56h-1.7 M258.0 411.17h1.7M478.4 411.17h-1.7 M258.0 414.78h1.7M478.4 414.78h-1.7 M258.0 418.39h1.7M478.4 418.39h-1.7 M258.0 422.00h3.2M478.4 422.00h-3.2 M258.0 425.61h1.7M478.4 425.61h-1.7 M258.0 429.22h1.7M478.4 429.22h-1.7 M258.0 432.83h1.7M478.4 432.83h-1.7 M258.0 526.27h1.8M478.4 526.27h-1.8 M258.0 524.20h3.2M478.4 524.20h-3.2 M258.0 522.13h1.8M478.4 522.13h-1.8 M258.0 520.05h1.8M478.4 520.05h-1.8 M258.0 517.98h1.8M478.4 517.98h-1.8 M258.0 515.90h1.8M478.4 515.90h-1.8 M258.0 513.83h3.2M478.4 513.83h-3.2 M258.0 511.76h1.8M478.4 511.76h-1.8 M258.0 509.68h1.8M478.4 509.68h-1.8 M258.0 507.61h1.8M478.4 507.61h-1.8 M258.0 505.53h1.8M478.4 505.53h-1.8 M258.0 503.46h3.2M478.4 503.46h-3.2 M258.0 501.39h1.8M478.4 501.39h-1.8 M258.0 499.31h1.8M478.4 499.31h-1.8 M258.0 497.24h1.8M478.4 497.24h-1.8 M258.0 495.16h1.8M478.4 495.16h-1.8 M258.0 493.09h3.2M478.4 493.09h-3.2 M258.0 491.02h1.8M478.4 491.02h-1.8 M258.0 488.94h1.8M478.4 488.94h-1.8 M258.0 486.87h1.8M478.4 486.87h-1.8 M258.0 484.79h1.8M478.4 484.79h-1.8 M258.0 482.72h3.2M478.4 482.72h-3.2 M258.0 480.65h1.8M478.4 480.65h-1.8 M258.0 478.57h1.8M478.4 478.57h-1.8 M258.0 476.50h1.8M478.4 476.50h-1.8 M258.0 474.42h1.8M478.4 474.42h-1.8 M258.0 472.35h3.2M478.4 472.35h-3.2 M258.0 470.28h1.8M478.4 470.28h-1.8 M258.0 468.20h1.8M478.4 468.20h-1.8 M258.0 466.13h1.8M478.4 466.13h-1.8 M258.0 464.05h1.8M478.4 464.05h-1.8 M258.0 461.98h3.2M478.4 461.98h-3.2 M258.0 459.91h1.8M478.4 459.91h-1.8 M258.0 457.83h1.8M478.4 457.83h-1.8 M258.0 455.76h1.8M478.4 455.76h-1.8 M258.0 453.68h1.8M478.4 453.68h-1.8 M258.0 451.61h3.2M478.4 451.61h-3.2 M258.0 449.54h1.8M478.4 449.54h-1.8 M258.0 447.46h1.8M478.4 447.46h-1.8 M258.0 445.39h1.8M478.4 445.39h-1.8 M258.0 443.31h1.8M478.4 443.31h-1.8" stroke="#111" stroke-width="0.9" fill="none"/>
<text x="262.60" y="536.3" font-size="7.4" text-anchor="middle" fill="#333">0</text>
<text x="295.80" y="536.3" font-size="7.4" text-anchor="middle" fill="#333">30</text>
<text x="329.00" y="536.3" font-size="7.4" text-anchor="middle" fill="#333">60</text>
<text x="362.20" y="536.3" font-size="7.4" text-anchor="middle" fill="#333">90</text>
<text x="395.40" y="536.3" font-size="7.4" text-anchor="middle" fill="#333">120</text>
<text x="428.60" y="536.3" font-size="7.4" text-anchor="middle" fill="#333">150</text>
<text x="461.80" y="536.3" font-size="7.4" text-anchor="middle" fill="#333">180</text>
<text x="253.5" y="526.90" font-size="7.7" text-anchor="end" fill="#333">0</text>
<text x="253.5" y="516.53" font-size="7.7" text-anchor="end" fill="#333">5</text>
<text x="253.5" y="506.16" font-size="7.7" text-anchor="end" fill="#333">10</text>
<text x="253.5" y="495.79" font-size="7.7" text-anchor="end" fill="#333">15</text>
<text x="253.5" y="485.42" font-size="7.7" text-anchor="end" fill="#333">20</text>
<text x="253.5" y="475.05" font-size="7.7" text-anchor="end" fill="#333">25</text>
<text x="253.5" y="464.68" font-size="7.7" text-anchor="end" fill="#333">30</text>
<text x="253.5" y="454.31" font-size="7.7" text-anchor="end" fill="#333">35</text>
<text x="228.2" y="352.20" font-size="7.0" fill="#444" textLength="22.8" lengthAdjust="spacingAndGlyphs">5.0x10</text>
<text x="251.3" y="348.80" font-size="4.8" fill="#444">6</text>
<text x="228.2" y="370.25" font-size="7.0" fill="#444" textLength="22.8" lengthAdjust="spacingAndGlyphs">4.0x10</text>
<text x="251.3" y="366.85" font-size="4.8" fill="#444">6</text>
<text x="228.2" y="388.30" font-size="7.0" fill="#444" textLength="22.8" lengthAdjust="spacingAndGlyphs">3.0x10</text>
<text x="251.3" y="384.90" font-size="4.8" fill="#444">6</text>
<text x="228.2" y="406.35" font-size="7.0" fill="#444" textLength="22.8" lengthAdjust="spacingAndGlyphs">2.0x10</text>
<text x="251.3" y="402.95" font-size="4.8" fill="#444">6</text>
<text x="228.2" y="424.40" font-size="7.0" fill="#444" textLength="22.8" lengthAdjust="spacingAndGlyphs">1.0x10</text>
<text x="251.3" y="421.00" font-size="4.8" fill="#444">6</text>
<text x="305.6" y="550.6" font-size="9.0" font-weight="bold" fill="#1a1a1a" textLength="123.5" lengthAdjust="spacingAndGlyphs">Thermal oxidation time [min]</text>
<text transform="translate(236.8,463.9) rotate(-90)" font-size="8.6" font-weight="bold" fill="#1a1a1a">R/R<tspan dy="2.6" font-size="5.2">0</tspan></text>
<text x="238.4" y="336.3" font-size="10.4" font-weight="bold" fill="#1a1a1a" textLength="14.2" lengthAdjust="spacingAndGlyphs">(d)</text>
<rect x="397.9" y="358.4" width="73.8" height="40.2" fill="#fff" stroke="#444" stroke-width="0.8"/>
<line x1="398.5" y1="366.5" x2="419.8" y2="366.5" stroke="#000" stroke-width="1.3"/>
<line x1="398.5" y1="379.0" x2="419.8" y2="379.0" stroke="#ff0000" stroke-width="1.3"/>
<line x1="398.5" y1="391.7" x2="419.8" y2="391.7" stroke="#0000ff" stroke-width="1.3"/>
<polygon points="409.4,364.0 407.2,368.0 411.6,368.0" fill="#000"/>
<circle cx="409.4" cy="379.0" r="2.1" fill="#ff0000"/>
<rect x="407.6" y="389.9" width="3.6" height="3.6" fill="#0000ff"/>
<text x="422.7" y="369.1" font-size="8.6" font-weight="bold" fill="#222" textLength="13.3" lengthAdjust="spacingAndGlyphs">IPL</text>
<text x="441.7" y="369.1" font-size="8.6" font-weight="bold" fill="#222" textLength="27.7" lengthAdjust="spacingAndGlyphs">220 °C</text>
<text x="422.7" y="381.3" font-size="8.6" font-weight="bold" fill="#222" textLength="10.9" lengthAdjust="spacingAndGlyphs">LE</text>
<text x="441.7" y="381.3" font-size="8.6" font-weight="bold" fill="#222" textLength="27.7" lengthAdjust="spacingAndGlyphs">220 °C</text>
<text x="422.7" y="394.2" font-size="8.6" font-weight="bold" fill="#222" textLength="11.9" lengthAdjust="spacingAndGlyphs">HE</text>
<text x="440.5" y="394.2" font-size="8.6" font-weight="bold" fill="#222" textLength="27.7" lengthAdjust="spacingAndGlyphs">220 °C</text>
<text x="419.6" y="409.6" font-size="8.6" font-weight="bold" fill="#222" textLength="6.4" lengthAdjust="spacingAndGlyphs">R</text>
<text x="426.1" y="412.1" font-size="5.3" font-weight="bold" fill="#222" textLength="14.2" lengthAdjust="spacingAndGlyphs">0,IPL</text>
<text x="443.3" y="409.6" font-size="8.6" font-weight="bold" fill="#222" textLength="28.2" lengthAdjust="spacingAndGlyphs">: 1.2 <tspan font-weight="normal">Ω</tspan></text>
<text x="419.6" y="423.7" font-size="8.6" font-weight="bold" fill="#222" textLength="6.4" lengthAdjust="spacingAndGlyphs">R</text>
<text x="426.1" y="426.2" font-size="5.3" font-weight="bold" fill="#222" textLength="12.6" lengthAdjust="spacingAndGlyphs">0,LE</text>
<text x="442.0" y="423.7" font-size="8.6" font-weight="bold" fill="#222" textLength="28.0" lengthAdjust="spacingAndGlyphs">: 3.0 <tspan font-weight="normal">Ω</tspan></text>
<text x="419.6" y="438.3" font-size="8.6" font-weight="bold" fill="#222" textLength="6.4" lengthAdjust="spacingAndGlyphs">R</text>
<text x="426.1" y="440.8" font-size="5.3" font-weight="bold" fill="#222" textLength="13.2" lengthAdjust="spacingAndGlyphs">0,HE</text>
<text x="442.3" y="438.3" font-size="8.6" font-weight="bold" fill="#222" textLength="28.2" lengthAdjust="spacingAndGlyphs">: 1.2 <tspan font-weight="normal">Ω</tspan></text>
</svg>
</body></html>
